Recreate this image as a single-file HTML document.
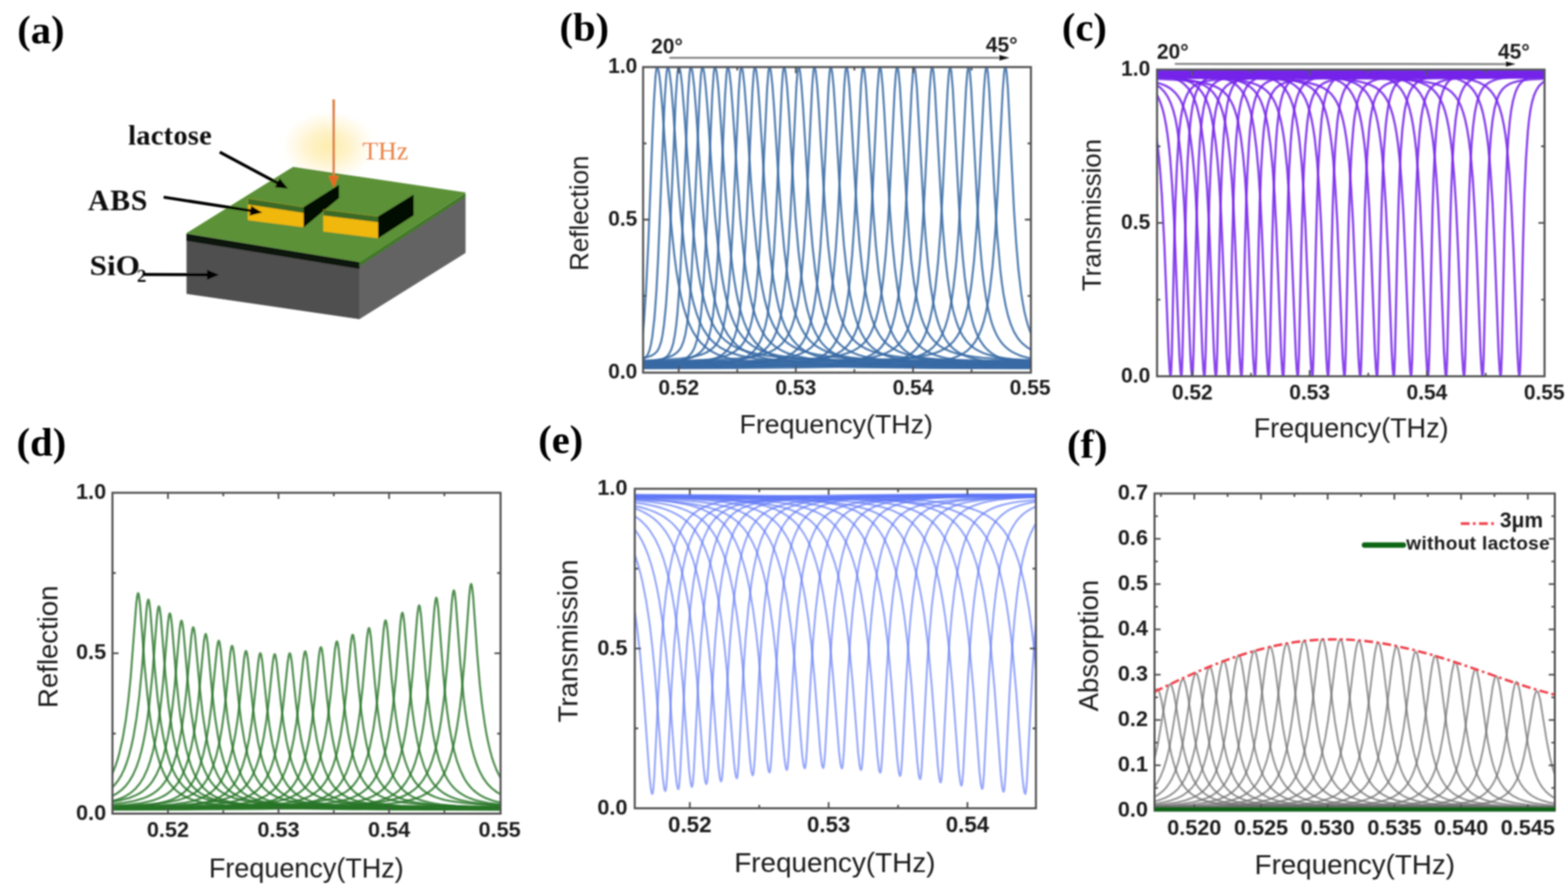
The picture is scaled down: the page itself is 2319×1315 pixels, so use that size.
<!DOCTYPE html><html><head><meta charset="utf-8"><style>html,body{margin:0;padding:0;background:#fff;overflow:hidden}svg{display:block}</style></head><body>
<svg width="2319" height="1315" viewBox="0 0 2319 1315">
<rect width="2319" height="1315" fill="#fff"/>
<defs><radialGradient id="glow" cx="50%" cy="50%" r="50%"><stop offset="0" stop-color="#fdeeae" stop-opacity="1"/><stop offset="0.4" stop-color="#fef1c2" stop-opacity="0.9"/><stop offset="0.75" stop-color="#fff8e2" stop-opacity="0.6"/><stop offset="1" stop-color="#ffffff" stop-opacity="0"/></radialGradient><clipPath id="cb"><rect x="951.1" y="99.2" width="573.6" height="452"/></clipPath><clipPath id="cc"><rect x="1711.2" y="103" width="573.1" height="453.6"/></clipPath><clipPath id="cd"><rect x="166.3" y="728.9" width="574" height="474.6"/></clipPath><clipPath id="ce"><rect x="938.8" y="723.3" width="593.5" height="472.3"/></clipPath><clipPath id="cf"><rect x="1707.5" y="730" width="592" height="469"/></clipPath><filter id="soft" x="0" y="0" width="2319" height="1315" filterUnits="userSpaceOnUse"><feGaussianBlur stdDeviation="0.9"/></filter></defs>
<g filter="url(#soft)">
<text x="25.5" y="63.5" text-anchor="start" style="font-family:'Liberation Serif','Times New Roman',serif;font-weight:bold;font-size:60.0px" fill="#000">(a)</text>
<ellipse cx="486" cy="216" rx="74" ry="56" fill="url(#glow)"/>
<g stroke-linejoin="round">
<polygon points="276.2,347 531.5,389 531.5,471.7 276.2,434.4" fill="#4f4f4f" stroke="#4f4f4f" stroke-width="0.8"/>
<polygon points="531.5,389 688.1,287 688.1,374.1 531.5,471.7" fill="#636363" stroke="#636363" stroke-width="0.8"/>
<polygon points="276.2,345 433.6,247.1 688.1,285 531.5,387.5" fill="#5b9137" stroke="#5b9137" stroke-width="0.8"/>
<polygon points="276.2,345.8 531.5,387.9 531.5,397.5 276.2,356" fill="#0c1708" stroke="#0c1708" stroke-width="0.6"/>
<polygon points="531.5,387.8 688.1,285.5 688.1,291.5 531.5,394" fill="#437a28"/>
<polygon points="366.8,293.7 449.3,306.5 449.3,336 366.8,325.4" fill="#f0b70f" stroke="#f0b70f" stroke-width="0.6"/>
<polygon points="366.8,293.7 449.3,306.5 449.3,315 366.8,302.5" fill="#3b6a27"/>
<polygon points="449.3,306.5 501.1,273.8 501.1,292.9 449.3,336" fill="#050805" stroke="#050805" stroke-width="0.6"/>
<polygon points="478.3,310.2 559.5,320.3 559.5,352.2 478.3,342.2" fill="#f0b70f" stroke="#f0b70f" stroke-width="0.6"/>
<polygon points="478.3,310.2 559.5,320.3 559.5,328.8 478.3,318.7" fill="#3b6a27"/>
<polygon points="559.5,320.3 611.5,288.3 611.5,318.5 559.5,352.2" fill="#050805" stroke="#050805" stroke-width="0.6"/>
</g>
<line x1="493.5" y1="147" x2="493.5" y2="264" stroke="#e07c3c" stroke-width="3.6"/>
<polygon points="485.8,260 501.2,260 493.5,278" fill="#e46a24"/>
<text x="536.0" y="236.4" text-anchor="start" style="font-family:'Liberation Serif','Times New Roman',serif;font-size:38.0px" fill="#ea8347">THz</text>
<text x="189.5" y="213.5" text-anchor="start" style="font-family:'Liberation Serif','Times New Roman',serif;font-weight:bold;font-size:42.0px" fill="#111" letter-spacing="0.4">lactose</text>
<text x="130.0" y="311.4" text-anchor="start" style="font-family:'Liberation Serif','Times New Roman',serif;font-weight:bold;font-size:44.0px" fill="#111" letter-spacing="1.2">ABS</text>
<text x="0.0" y="0.0" text-anchor="start" style="font-family:'Liberation Serif','Times New Roman',serif;font-weight:bold;font-size:42.0px" fill="#111" transform="translate(132.6 407.3) scale(1.100 1)">SiO</text>
<text x="202.6" y="417.2" text-anchor="start" style="font-family:'Liberation Serif','Times New Roman',serif;font-weight:bold;font-size:28.0px" fill="#111">2</text>
<line x1="325.0" y1="225.0" x2="411.9" y2="271.5" stroke="#000" stroke-width="4.5"/><polygon points="426.0,279.0 406.6,277.1 413.7,263.9" fill="#000"/>
<line x1="242.0" y1="291.6" x2="372.2" y2="311.9" stroke="#000" stroke-width="4.5"/><polygon points="388.0,314.4 369.1,319.0 371.4,304.2" fill="#000"/>
<line x1="213.0" y1="406.0" x2="308.0" y2="406.4" stroke="#000" stroke-width="4.5"/><polygon points="324.0,406.5 306.0,413.9 306.0,398.9" fill="#000"/>
<g clip-path="url(#cb)" fill="none" stroke="#376aa5" stroke-width="3.1" stroke-opacity="0.85" stroke-linejoin="round">
<path d="M949.1 506.5L950.8 492.8 952.5 474.6 955.6 427.4 959.0 355.9 965.0 199.0 967.2 149.6 969.6 111.6 970.8 101.9 971.7 99.2 972.2 99.4 972.9 100.7 974.1 105.3 975.3 113.0 976.8 125.8 979.9 163.4 988.1 279.4 992.0 326.2 997.3 377.1 1000.1 398.9 1003.3 418.7 1006.9 437.5 1010.7 453.6 1015.1 468.0 1019.6 480.0 1024.7 490.4 1030.5 499.6 1036.7 507.2 1044.0 514.0 1051.7 519.4 1060.3 523.9 1070.2 527.8 1081.5 531.1 1094.5 533.9 1109.5 536.1 1126.8 538.0 1147.0 539.6 1170.1 540.8 1197.3 541.8 1268.1 543.2 1370.9 544.1 1526.7 544.6"/>
<path d="M949.1 532.6L953.2 530.2 956.3 527.1 958.7 522.9 960.9 517.1 962.8 509.3 964.7 498.2 967.9 470.3 970.8 430.7 973.4 381.1 981.1 190.7 983.3 143.3 985.5 110.7 986.7 101.5 987.1 99.7 987.6 99.2 988.1 99.5 988.8 100.9 990.0 105.9 992.7 127.2 995.8 165.5 1003.5 275.3 1007.4 322.4 1012.7 373.7 1015.6 395.6 1018.7 415.5 1022.1 433.0 1025.9 449.3 1030.0 463.1 1034.6 475.3 1039.6 485.8 1045.2 494.7 1051.4 502.5 1058.4 509.1 1065.9 514.4 1074.3 518.9 1083.9 522.8 1095.0 526.1 1107.5 528.8 1122.2 531.1 1139.1 533.0 1158.8 534.6 1181.2 535.8 1207.7 536.8 1276.5 538.2 1376.2 539.1 1526.7 539.6"/>
<path d="M949.1 530.1L957.8 528.1 964.3 525.7 968.8 522.8 972.5 518.7 975.3 513.1 977.8 505.6 979.9 495.3 981.8 482.3 985.0 451.0 987.9 408.3 991.2 340.5 999.4 144.7 1001.6 111.6 1002.8 101.8 1003.3 99.9 1003.8 99.2 1004.2 99.4 1005.0 100.8 1006.2 105.7 1007.4 113.7 1008.8 126.9 1011.9 165.4 1019.4 272.2 1023.3 319.6 1025.9 347.3 1028.6 371.0 1031.4 392.9 1034.3 411.3 1037.7 429.0 1041.6 445.3 1045.6 459.1 1050.0 470.7 1054.8 480.9 1060.3 490.0 1066.4 497.6 1073.1 504.0 1080.6 509.5 1088.7 514.0 1098.1 517.8 1108.7 521.1 1121.0 523.8 1135.2 526.1 1151.6 528.0 1170.8 529.5 1192.5 530.8 1218.3 531.8 1285.0 533.2 1381.3 534.1 1526.7 534.7"/>
<path d="M949.1 538.9L961.9 537.1 972.0 534.8 979.9 531.7 983.0 529.8 985.7 527.8 987.9 525.6 989.8 523.0 992.9 516.8 995.6 508.2 998.0 496.2 999.9 482.6 1001.8 464.5 1005.4 415.4 1009.3 339.3 1017.5 143.1 1019.6 110.3 1020.8 101.1 1021.3 99.6 1021.8 99.2 1022.3 99.6 1023.0 101.3 1024.2 106.9 1026.6 127.2 1029.5 163.6 1037.2 277.1 1040.8 322.9 1043.5 351.4 1046.1 375.9 1048.8 396.7 1051.7 415.9 1055.0 434.3 1058.6 450.2 1062.5 463.9 1066.8 476.1 1071.7 486.8 1076.9 495.9 1083.0 503.9 1089.7 510.7 1096.9 516.2 1104.9 520.8 1114.0 524.7 1124.4 528.1 1136.4 530.9 1150.1 533.2 1166.0 535.2 1184.6 536.8 1205.5 538.0 1230.3 539.1 1294.8 540.6 1387.5 541.5 1526.7 542.1"/>
<path d="M949.1 534.7L966.0 533.2 979.0 531.0 989.3 528.1 993.6 526.3 997.3 524.3 1000.4 522.1 1003.0 519.7 1005.4 516.8 1007.4 513.7 1010.7 505.7 1013.6 494.6 1016.0 480.6 1018.2 462.9 1020.4 439.1 1022.3 412.0 1026.4 335.0 1034.6 143.2 1036.7 110.4 1037.9 101.2 1038.4 99.6 1038.9 99.2 1039.4 99.6 1040.1 101.3 1041.3 107.0 1043.7 127.6 1046.6 164.4 1054.1 274.8 1057.7 320.8 1062.7 371.7 1065.4 392.8 1068.0 410.6 1071.2 428.1 1074.8 444.6 1078.6 458.6 1083.0 471.2 1087.5 481.5 1092.8 490.9 1098.6 498.7 1105.1 505.5 1112.1 511.0 1119.8 515.6 1128.7 519.6 1138.8 522.9 1150.4 525.8 1163.6 528.1 1179.0 530.1 1197.1 531.7 1217.6 533.0 1241.4 534.0 1303.5 535.6 1392.8 536.5 1526.7 537.1"/>
<path d="M949.1 542.7L970.8 541.3 987.1 539.3 999.9 536.5 1005.2 534.7 1009.8 532.7 1013.9 530.4 1017.5 527.7 1020.6 524.7 1023.3 521.4 1025.7 517.4 1027.6 513.1 1031.0 502.1 1033.8 487.2 1036.3 469.0 1038.7 444.0 1040.8 414.4 1045.2 333.4 1053.4 140.9 1055.5 108.8 1056.5 101.5 1057.0 99.7 1057.4 99.2 1057.9 99.6 1058.6 101.2 1059.9 107.0 1062.3 128.3 1065.1 166.3 1072.4 276.8 1076.0 324.3 1080.8 374.7 1083.4 396.6 1086.1 415.2 1089.2 433.4 1092.6 449.4 1096.4 464.1 1100.5 476.5 1105.1 487.4 1110.2 496.8 1116.0 505.1 1122.2 511.9 1129.0 517.5 1136.7 522.4 1145.3 526.5 1155.0 529.8 1166.3 532.8 1179.0 535.2 1194.0 537.2 1211.3 538.9 1230.8 540.2 1253.9 541.3 1313.6 542.9 1399.1 543.9 1526.7 544.5"/>
<path d="M949.1 538.1L975.8 536.9 995.8 535.0 1011.0 532.4 1017.0 530.8 1022.5 528.9 1027.6 526.5 1031.9 523.9 1035.8 520.9 1039.1 517.4 1042.0 513.5 1044.4 509.2 1046.6 504.1 1048.5 498.2 1051.7 484.6 1054.6 465.6 1057.2 440.7 1059.6 410.2 1061.8 375.5 1064.2 328.7 1072.4 140.5 1074.5 108.6 1075.5 101.4 1076.0 99.7 1076.5 99.2 1077.4 100.6 1078.6 105.8 1081.0 126.3 1083.9 164.1 1091.2 274.9 1094.8 322.5 1099.6 372.8 1102.0 392.8 1104.6 411.5 1107.8 429.8 1111.1 445.8 1114.7 459.6 1118.8 472.2 1123.2 482.6 1128.0 491.7 1133.5 499.9 1139.5 506.6 1146.0 512.2 1153.5 517.1 1161.9 521.3 1171.3 524.7 1182.2 527.6 1194.4 530.1 1208.9 532.1 1225.5 533.8 1244.3 535.1 1266.4 536.2 1323.7 537.9 1405.4 538.9 1526.7 539.5"/>
<path d="M949.1 533.5L981.6 532.3 1005.2 530.6 1023.0 528.2 1030.2 526.6 1036.5 524.8 1042.3 522.6 1047.3 520.0 1051.9 516.8 1055.8 513.4 1059.1 509.6 1062.3 504.8 1064.9 499.5 1067.1 493.8 1070.7 480.1 1073.8 461.9 1076.7 437.3 1079.4 406.2 1081.8 369.7 1084.2 324.7 1092.6 136.2 1094.5 108.8 1095.5 101.5 1096.0 99.7 1096.4 99.2 1097.4 100.6 1098.6 105.8 1101.0 126.6 1103.9 164.8 1110.9 272.5 1114.3 317.4 1119.1 368.5 1121.5 388.7 1124.1 407.5 1127.3 426.0 1130.4 441.0 1134.0 455.1 1137.9 467.1 1142.2 477.7 1147.0 487.0 1152.3 494.9 1158.1 501.6 1164.3 507.1 1171.6 512.0 1179.5 516.0 1188.7 519.5 1199.0 522.4 1211.1 524.9 1224.8 527.0 1240.9 528.7 1259.0 530.1 1280.2 531.2 1334.6 532.8 1412.1 533.9 1526.7 534.5"/>
<path d="M949.1 541.1L987.4 540.0 1014.8 538.4 1035.3 536.1 1043.5 534.5 1050.7 532.7 1057.2 530.5 1063.0 527.8 1068.0 524.7 1072.4 521.2 1076.5 517.0 1079.8 512.3 1082.7 507.2 1085.4 501.1 1087.5 494.7 1089.5 487.4 1093.1 468.5 1096.2 443.9 1099.1 412.0 1101.7 373.2 1104.4 324.3 1112.8 134.9 1114.7 107.8 1115.7 101.0 1116.4 99.2 1116.9 99.4 1117.4 100.4 1118.6 105.4 1121.0 126.6 1123.4 158.7 1130.2 266.2 1134.0 320.1 1138.6 370.7 1141.0 392.0 1143.6 411.7 1146.5 429.6 1149.7 445.4 1153.0 459.3 1156.9 472.1 1161.0 482.8 1165.5 492.2 1170.6 500.4 1176.4 507.5 1182.4 513.3 1189.4 518.3 1197.1 522.6 1206.0 526.2 1215.9 529.2 1227.4 531.8 1240.7 534.0 1255.8 535.8 1273.2 537.2 1293.4 538.4 1345.2 540.1 1418.6 541.2 1526.7 541.9"/>
<path d="M949.1 536.4L993.6 535.4 1025.2 533.9 1048.5 531.7 1057.7 530.2 1065.9 528.5 1073.1 526.4 1079.6 523.8 1085.1 520.9 1090.2 517.3 1094.5 513.4 1098.4 508.8 1101.7 503.6 1104.9 497.3 1107.5 490.3 1109.7 483.1 1111.9 474.1 1113.8 463.9 1117.2 439.9 1120.3 408.1 1123.2 368.2 1125.8 321.5 1134.5 131.7 1136.4 106.2 1137.4 100.3 1138.1 99.2 1139.1 100.9 1140.3 106.6 1142.4 126.3 1144.8 158.6 1151.3 262.8 1155.2 317.2 1159.8 368.1 1164.6 407.3 1167.5 425.4 1170.4 440.3 1173.7 454.5 1177.3 466.7 1181.4 477.7 1185.8 486.9 1190.6 494.9 1196.1 502.1 1202.1 508.0 1208.6 512.9 1216.1 517.2 1224.5 520.9 1234.2 524.0 1245.0 526.6 1257.5 528.7 1272.2 530.6 1288.6 532.0 1307.8 533.2 1356.7 535.0 1425.8 536.2 1526.7 536.9"/>
<path d="M949.1 543.9L1000.1 543.0 1036.0 541.6 1062.0 539.4 1072.4 538.0 1081.5 536.2 1089.5 534.1 1096.4 531.7 1102.5 528.8 1108.0 525.3 1112.8 521.2 1117.2 516.5 1121.0 510.9 1124.4 504.7 1127.3 497.8 1129.9 489.7 1132.3 480.4 1134.5 469.8 1138.3 443.9 1141.7 410.9 1144.6 372.3 1147.5 322.2 1156.2 131.3 1157.8 108.0 1158.8 101.0 1159.5 99.2 1160.0 99.5 1160.5 100.4 1161.7 105.9 1164.1 128.4 1166.8 166.2 1173.5 277.6 1176.6 322.3 1181.0 372.0 1185.5 410.9 1188.4 429.9 1191.3 445.5 1194.4 459.3 1198.1 472.1 1201.9 483.1 1206.0 492.3 1210.6 500.5 1215.9 507.8 1221.6 514.0 1227.9 519.1 1235.1 523.6 1243.1 527.4 1252.2 530.6 1262.6 533.3 1274.6 535.6 1288.3 537.5 1304.0 539.1 1322.0 540.3 1368.0 542.2 1432.8 543.5 1526.7 544.2"/>
<path d="M949.1 539.1L1006.4 538.2 1046.4 536.9 1075.3 534.8 1086.8 533.5 1096.7 531.8 1105.6 529.8 1113.3 527.4 1120.0 524.5 1125.8 521.2 1131.1 517.2 1135.7 512.6 1139.8 507.4 1143.4 501.4 1146.8 494.2 1149.7 486.3 1152.3 477.2 1154.7 466.8 1156.9 455.2 1159.0 440.9 1162.7 409.0 1165.8 370.5 1168.9 319.3 1177.8 128.2 1179.5 106.4 1180.5 100.3 1181.2 99.2 1182.2 101.0 1183.4 107.1 1185.5 128.1 1187.7 158.5 1194.0 262.9 1197.6 316.2 1201.7 364.5 1206.2 404.7 1208.9 422.8 1211.8 439.0 1214.9 453.4 1218.3 465.9 1221.9 476.6 1226.0 486.4 1230.6 494.9 1235.6 502.2 1241.2 508.4 1247.2 513.6 1253.9 518.1 1261.6 521.9 1270.3 525.2 1280.2 528.0 1291.5 530.3 1304.5 532.2 1319.2 533.8 1336.3 535.1 1379.4 537.1 1439.5 538.4 1526.7 539.2"/>
<path d="M949.1 534.2L1013.6 533.4 1058.2 532.2 1090.2 530.2 1102.7 529.0 1113.5 527.4 1123.2 525.5 1131.6 523.1 1138.8 520.4 1145.3 517.1 1150.9 513.4 1155.9 508.9 1160.3 503.8 1164.3 497.7 1168.0 490.6 1171.3 482.2 1174.2 473.1 1176.9 462.7 1179.3 450.9 1181.7 436.4 1185.8 402.8 1189.1 363.4 1192.3 314.0 1201.2 127.1 1202.9 105.9 1203.6 101.1 1204.3 99.2 1204.8 99.5 1205.3 100.4 1206.5 106.1 1208.6 126.4 1210.8 156.7 1217.1 261.5 1220.7 314.9 1224.8 363.1 1229.1 401.2 1231.8 419.4 1234.4 434.4 1237.3 447.9 1240.7 460.8 1244.3 471.8 1248.1 481.1 1252.5 489.5 1257.0 496.4 1262.1 502.4 1267.9 507.8 1274.4 512.4 1281.6 516.3 1289.8 519.6 1299.2 522.5 1309.8 524.9 1322.0 526.9 1335.8 528.5 1351.7 529.9 1391.9 531.9 1447.2 533.3 1526.7 534.1"/>
<path d="M949.1 541.8L1021.6 541.1 1071.2 540.0 1106.6 538.2 1120.3 537.0 1132.1 535.5 1142.4 533.7 1151.6 531.5 1159.5 528.8 1166.3 525.8 1172.5 522.0 1177.8 517.7 1182.6 512.5 1186.7 506.9 1190.6 500.0 1194.2 491.6 1197.3 482.3 1200.2 471.5 1202.9 459.0 1205.3 444.8 1207.4 429.1 1209.6 409.9 1213.2 367.7 1216.4 318.0 1225.3 129.1 1226.9 106.9 1227.9 100.6 1228.6 99.2 1229.6 100.9 1230.8 107.2 1233.0 129.3 1235.1 161.3 1240.9 261.8 1244.3 314.0 1248.1 362.2 1252.5 403.0 1254.9 420.7 1257.5 437.0 1260.4 451.5 1263.5 464.4 1266.9 475.6 1270.5 485.2 1274.6 493.9 1279.2 501.5 1284.0 507.8 1289.5 513.5 1295.6 518.2 1302.3 522.3 1310.0 525.8 1318.7 528.8 1328.5 531.4 1340.1 533.6 1352.9 535.3 1367.6 536.8 1404.4 539.0 1455.0 540.4 1526.7 541.4"/>
<path d="M949.1 537.0L1029.8 536.3 1084.4 535.3 1122.7 533.7 1137.6 532.5 1150.4 531.2 1161.7 529.4 1171.3 527.4 1179.8 524.9 1187.0 522.0 1193.5 518.5 1199.3 514.3 1204.3 509.3 1208.6 503.8 1212.7 497.1 1216.6 488.7 1220.0 479.3 1222.9 469.0 1225.7 456.0 1228.1 442.4 1230.3 427.3 1232.5 408.9 1236.1 368.6 1239.2 321.1 1248.6 127.5 1250.3 106.2 1251.3 100.3 1252.0 99.2 1252.9 101.1 1253.9 106.1 1256.1 127.5 1258.2 159.4 1264.0 260.4 1267.4 312.7 1271.0 358.2 1275.1 397.5 1277.5 415.7 1279.9 430.8 1282.8 445.9 1285.7 458.2 1288.8 469.1 1292.4 479.2 1296.3 487.8 1300.4 495.1 1305.0 501.6 1310.3 507.4 1316.0 512.3 1322.3 516.4 1329.5 520.1 1337.5 523.1 1346.6 525.7 1357.2 528.0 1369.0 529.8 1382.5 531.3 1416.2 533.7 1462.2 535.2 1526.7 536.3"/>
<path d="M949.1 544.5L1038.7 543.9 1098.4 543.0 1140.0 541.4 1156.2 540.3 1169.9 539.0 1181.9 537.4 1192.3 535.4 1201.2 533.0 1209.1 530.1 1215.9 526.7 1221.9 522.6 1227.2 517.8 1231.8 512.4 1236.1 505.7 1239.9 497.8 1243.6 488.3 1246.7 477.7 1249.6 465.2 1252.2 450.8 1254.6 434.4 1256.8 416.2 1260.4 376.4 1263.8 325.5 1273.4 125.9 1275.1 105.4 1275.8 100.9 1276.5 99.2 1277.0 99.5 1277.5 100.7 1278.7 107.2 1280.9 130.3 1291.7 314.7 1295.3 362.1 1299.2 400.7 1303.7 434.2 1306.4 449.0 1309.0 461.2 1311.9 472.2 1315.3 482.7 1318.9 491.7 1322.8 499.3 1327.1 506.2 1331.9 512.2 1337.2 517.4 1343.0 521.8 1349.7 525.7 1357.2 529.0 1365.6 531.9 1375.3 534.3 1386.1 536.3 1398.4 538.0 1412.3 539.3 1428.7 540.5 1469.6 542.3 1526.7 543.4"/>
<path d="M949.1 539.6L1047.6 539.1 1112.8 538.2 1157.8 536.8 1174.9 535.8 1189.6 534.6 1202.4 533.0 1213.5 531.2 1223.1 528.8 1231.3 526.1 1238.5 522.8 1244.8 519.0 1250.3 514.4 1255.1 509.2 1259.7 502.6 1263.8 494.8 1267.4 485.9 1270.8 475.2 1273.7 463.4 1276.3 449.9 1278.7 434.5 1281.1 415.5 1284.5 380.6 1287.4 340.8 1290.7 280.7 1297.7 133.0 1299.7 107.3 1300.6 100.8 1301.3 99.2 1301.8 99.5 1302.3 100.7 1303.3 105.6 1305.4 127.7 1307.6 161.1 1313.1 262.0 1316.0 309.1 1319.6 357.4 1323.3 394.5 1327.6 427.5 1330.0 441.6 1332.6 454.5 1335.5 466.0 1338.4 475.5 1341.8 484.6 1345.4 492.4 1349.5 499.5 1353.8 505.4 1358.6 510.6 1364.2 515.3 1370.2 519.3 1376.9 522.7 1384.6 525.7 1393.3 528.3 1402.9 530.4 1414.0 532.2 1426.5 533.7 1441.0 534.9 1477.1 536.9 1526.7 538.2"/>
<path d="M949.1 534.7L1056.7 534.3 1127.3 533.5 1175.7 532.1 1209.9 530.1 1223.6 528.6 1235.4 526.8 1245.5 524.7 1254.2 522.1 1261.6 519.0 1268.4 515.2 1274.1 510.8 1279.2 505.8 1284.0 499.4 1288.3 491.7 1292.2 482.7 1295.6 472.5 1298.7 460.3 1301.6 446.0 1304.0 430.9 1306.4 412.3 1309.8 378.3 1312.7 339.6 1316.3 276.4 1323.0 135.8 1324.9 109.1 1325.9 101.8 1326.4 99.9 1326.9 99.2 1327.3 99.6 1327.8 100.8 1328.8 105.9 1331.0 128.7 1341.1 303.8 1344.4 350.1 1347.8 386.2 1351.9 419.1 1356.5 445.4 1359.1 457.0 1362.0 467.4 1364.9 476.0 1368.3 484.2 1371.9 491.3 1376.0 497.7 1380.6 503.4 1385.4 508.1 1390.9 512.4 1396.9 516.0 1403.9 519.2 1411.6 521.9 1420.3 524.2 1429.9 526.1 1441.0 527.8 1453.5 529.2 1484.6 531.3 1526.7 532.8"/>
<path d="M949.1 542.2L1066.1 541.8 1142.0 541.0 1193.7 539.7 1229.8 537.8 1244.5 536.3 1256.8 534.6 1267.4 532.5 1276.5 530.0 1284.5 526.9 1291.5 523.3 1297.5 519.0 1302.8 514.0 1307.8 507.5 1312.4 499.8 1316.3 491.2 1319.9 480.6 1323.0 468.9 1325.9 455.0 1328.5 439.0 1331.0 420.8 1334.6 384.9 1337.7 342.8 1341.3 278.8 1348.1 136.9 1350.0 109.8 1350.9 102.1 1351.9 99.2 1352.4 99.5 1352.9 100.7 1353.8 105.9 1356.0 129.4 1365.9 306.7 1369.0 351.6 1372.4 389.6 1376.2 422.2 1380.3 447.6 1382.7 459.2 1385.1 469.0 1388.0 478.7 1390.9 486.7 1394.3 494.3 1397.9 501.0 1402.0 507.0 1406.3 512.1 1411.1 516.6 1416.7 520.7 1422.7 524.1 1429.4 527.1 1436.9 529.6 1445.3 531.8 1454.7 533.7 1465.5 535.3 1491.8 537.8 1526.7 539.5"/>
<path d="M949.1 537.3L1076.2 536.9 1157.8 536.2 1213.0 535.0 1251.5 533.1 1266.9 531.8 1279.9 530.2 1291.0 528.2 1300.6 525.8 1309.0 522.8 1316.3 519.3 1322.5 515.2 1328.1 510.3 1333.4 504.0 1337.9 496.7 1342.0 488.1 1345.6 478.2 1349.0 466.2 1351.9 453.0 1354.6 437.8 1357.2 418.7 1360.8 384.1 1363.9 343.6 1367.6 282.0 1374.8 133.8 1376.7 108.3 1377.7 101.4 1378.1 99.7 1378.6 99.2 1379.1 99.7 1379.6 101.2 1380.6 107.0 1382.7 131.9 1391.9 298.9 1394.8 341.9 1397.9 379.2 1401.3 410.2 1405.1 436.6 1409.4 458.3 1411.9 467.6 1414.5 476.1 1417.4 483.9 1420.8 491.3 1424.1 497.3 1428.0 502.9 1432.3 507.9 1436.9 512.1 1442.0 515.9 1447.7 519.2 1454.0 522.1 1461.0 524.5 1468.9 526.7 1477.8 528.5 1487.7 530.1 1499.0 531.5 1526.7 533.6"/>
<path d="M949.1 544.8L1086.3 544.4 1173.7 543.7 1232.5 542.6 1273.2 540.8 1289.3 539.5 1303.0 537.9 1314.6 536.0 1324.7 533.6 1333.4 530.7 1341.1 527.1 1347.6 523.0 1353.3 518.1 1358.9 511.8 1363.7 504.4 1367.8 496.0 1371.6 485.6 1375.0 473.8 1378.1 459.7 1380.8 444.6 1383.4 425.5 1387.3 388.5 1390.7 344.0 1394.3 280.9 1401.3 135.8 1403.2 109.4 1404.1 102.0 1405.1 99.2 1405.6 99.5 1406.1 100.9 1407.0 106.5 1409.2 131.9 1418.1 300.5 1420.8 342.0 1423.7 378.8 1426.8 410.0 1430.2 435.7 1434.0 457.6 1438.1 474.9 1440.7 483.5 1443.4 490.8 1446.3 497.4 1449.7 503.7 1453.3 509.2 1457.1 514.0 1461.5 518.3 1466.0 522.0 1471.1 525.3 1476.6 528.1 1482.9 530.7 1489.9 532.9 1497.6 534.8 1506.2 536.5 1526.7 539.1"/>
<path d="M949.1 539.9L1096.4 539.5 1189.9 538.9 1252.2 537.8 1295.1 536.1 1312.2 534.9 1326.6 533.4 1338.9 531.5 1349.3 529.3 1358.4 526.5 1366.3 523.1 1373.1 519.2 1379.1 514.5 1384.6 508.7 1389.7 501.5 1394.3 492.7 1398.1 482.9 1401.7 470.9 1404.9 457.4 1407.8 441.5 1410.4 423.1 1414.3 387.4 1417.6 344.5 1421.2 283.5 1428.7 132.4 1430.6 107.7 1431.6 101.2 1432.1 99.6 1432.6 99.2 1433.5 101.6 1434.5 108.0 1436.4 131.3 1444.8 292.7 1447.2 331.8 1449.7 364.6 1452.3 393.9 1455.2 419.2 1458.3 440.5 1461.7 458.2 1466.0 475.1 1468.4 482.4 1471.1 489.2 1474.0 495.4 1476.9 500.5 1480.0 505.2 1483.6 509.6 1487.5 513.5 1491.5 516.9 1496.1 520.0 1501.2 522.7 1506.7 525.2 1512.7 527.3 1526.7 530.7"/>
<path d="M949.1 535.0L1107.0 534.6 1206.2 534.0 1272.0 533.0 1317.0 531.4 1334.8 530.2 1350.0 528.8 1362.7 527.0 1373.6 524.8 1383.0 522.2 1391.1 519.0 1398.1 515.2 1404.4 510.6 1410.4 504.6 1415.5 497.7 1420.0 489.4 1424.1 479.5 1427.7 468.0 1431.1 454.0 1434.0 438.6 1436.7 420.8 1440.5 386.3 1444.1 341.6 1447.7 281.9 1455.2 133.4 1457.1 108.5 1458.1 101.7 1458.6 99.9 1459.0 99.2 1459.5 99.6 1460.0 101.1 1461.0 107.2 1463.1 134.1 1470.8 284.2 1474.9 348.9 1479.3 397.9 1481.7 418.2 1484.1 434.7 1487.5 452.9 1491.1 467.8 1495.2 480.4 1499.7 490.9 1505.0 499.7 1508.2 503.8 1511.3 507.2 1518.3 513.1 1522.4 515.8 1526.7 518.1"/>
<path d="M949.1 542.4L1118.1 542.1 1223.3 541.5 1292.7 540.6 1339.9 539.0 1358.6 537.8 1374.3 536.4 1387.5 534.7 1398.9 532.5 1408.7 529.9 1417.2 526.7 1424.4 522.9 1430.9 518.4 1437.1 512.3 1442.4 505.3 1447.2 496.6 1451.3 486.8 1455.0 475.5 1458.3 461.8 1461.5 445.3 1464.1 427.6 1468.0 393.4 1471.6 349.1 1475.4 285.4 1482.9 135.3 1485.0 107.4 1486.0 101.1 1486.5 99.6 1487.0 99.2 1487.7 100.8 1488.7 106.7 1490.6 130.4 1499.7 311.4 1502.9 359.4 1506.2 398.8 1510.3 433.4 1512.5 447.3 1514.9 460.1 1517.6 471.5 1520.2 480.9 1523.3 489.8 1526.7 497.5"/>
</g>
<rect x="951.1" y="99.2" width="573.6" height="452.0" fill="none" stroke="#505050" stroke-width="3"/>
<path d="M1003.8 551.2v-9 M1003.8 99.2v9M1177.0 551.2v-9 M1177.0 99.2v9M1350.3 551.2v-9 M1350.3 99.2v9M1090.4 551.2v-5 M1090.4 99.2v5M1263.6 551.2v-5 M1263.6 99.2v5M1436.9 551.2v-5 M1436.9 99.2v5M951.1 324.9h9 M1524.7 324.9h-9M951.1 437.8h5 M1524.7 437.8h-5M951.1 212.1h5 M1524.7 212.1h-5" stroke="#505050" stroke-width="2.6" fill="none"/>
<text x="827.5" y="60.0" text-anchor="start" style="font-family:'Liberation Serif','Times New Roman',serif;font-weight:bold;font-size:60.0px" fill="#000">(b)</text>
<text x="963.0" y="79.0" text-anchor="start" style="font-family:'Liberation Sans',Arial,sans-serif;font-weight:bold;font-size:31.0px" fill="#1a1a1a">20°</text>
<text x="1458.0" y="77.0" text-anchor="start" style="font-family:'Liberation Sans',Arial,sans-serif;font-weight:bold;font-size:31.0px" fill="#1a1a1a">45°</text>
<line x1="990" y1="85.5" x2="1480" y2="85.5" stroke="#8a8a8a" stroke-width="3.2"/>
<polygon points="1478,81.5 1493,85.5 1478,89.5" fill="#111"/>
<text x="942.5" y="108.4" text-anchor="end" style="font-family:'Liberation Sans',Arial,sans-serif;font-weight:bold;font-size:31.0px" fill="#1a1a1a">1.0</text>
<text x="942.5" y="334.1" text-anchor="end" style="font-family:'Liberation Sans',Arial,sans-serif;font-weight:bold;font-size:31.0px" fill="#1a1a1a">0.5</text>
<text x="942.5" y="559.8" text-anchor="end" style="font-family:'Liberation Sans',Arial,sans-serif;font-weight:bold;font-size:31.0px" fill="#1a1a1a">0.0</text>
<text x="1003.8" y="583.6" text-anchor="middle" style="font-family:'Liberation Sans',Arial,sans-serif;font-weight:bold;font-size:31.0px" fill="#1a1a1a">0.52</text>
<text x="1177.0" y="583.6" text-anchor="middle" style="font-family:'Liberation Sans',Arial,sans-serif;font-weight:bold;font-size:31.0px" fill="#1a1a1a">0.53</text>
<text x="1350.3" y="583.6" text-anchor="middle" style="font-family:'Liberation Sans',Arial,sans-serif;font-weight:bold;font-size:31.0px" fill="#1a1a1a">0.54</text>
<text x="1523.5" y="583.6" text-anchor="middle" style="font-family:'Liberation Sans',Arial,sans-serif;font-weight:bold;font-size:31.0px" fill="#1a1a1a">0.55</text>
<text x="1236.7" y="640.5" text-anchor="middle" style="font-family:'Liberation Sans',Arial,sans-serif;font-size:39.6px" fill="#1a1a1a">Frequency(THz)</text>
<text x="870.3" y="315.4" text-anchor="middle" style="font-family:'Liberation Sans',Arial,sans-serif;font-size:38.4px" fill="#1a1a1a" transform="rotate(-90 870.3 315.4)">Reflection</text>
<g clip-path="url(#cc)" fill="none" stroke="#7424ea" stroke-width="3.3" stroke-opacity="0.86" stroke-linejoin="round">
<path d="M1709.2 195.5L1711.9 214.1 1714.2 235.0 1716.3 259.4 1718.4 290.4 1722.1 363.2 1728.3 521.2 1729.8 547.0 1730.6 554.1 1731.3 556.6 1732.1 549.8 1733.1 523.3 1736.5 367.9 1738.4 298.6 1740.6 246.0 1742.9 208.6 1744.4 191.4 1746.3 175.4 1748.5 162.8 1750.8 152.9 1753.5 144.7 1756.7 137.7 1760.4 132.5 1764.8 128.1 1769.2 125.2 1774.4 122.8 1780.6 120.8 1788.1 119.2 1796.9 118.0 1807.9 117.0 1837.7 115.7 1880.8 115.1 1950.7 114.7 2286.3 114.4"/>
<path d="M1709.2 137.0L1713.0 144.0 1716.3 151.8 1719.4 161.4 1722.1 172.2 1724.6 185.2 1726.7 199.0 1728.6 214.6 1730.6 233.8 1733.6 274.6 1736.5 327.6 1744.4 527.4 1745.8 548.6 1746.5 554.9 1747.1 556.6 1747.5 555.3 1747.9 550.5 1748.8 524.3 1752.3 365.9 1754.2 294.5 1756.3 240.3 1758.7 201.8 1760.2 184.0 1761.9 169.0 1764.0 155.6 1766.4 145.2 1769.0 136.5 1772.1 129.6 1776.0 123.7 1780.4 119.2 1784.8 116.1 1790.0 113.6 1796.2 111.6 1803.5 110.0 1812.3 108.7 1822.9 107.7 1852.0 106.4 1894.1 105.6 1962.1 105.2 2286.3 104.9"/>
<path d="M1709.2 124.9L1716.1 129.7 1721.9 135.6 1726.9 142.9 1731.3 152.0 1735.0 162.5 1738.3 175.2 1741.1 190.2 1743.8 208.9 1745.8 225.9 1747.7 246.9 1751.1 298.4 1754.4 367.4 1760.4 522.5 1761.9 547.9 1762.7 554.6 1763.1 556.2 1763.5 556.5 1764.2 548.1 1765.2 519.7 1768.5 370.1 1770.4 298.6 1772.5 244.2 1774.8 205.6 1776.4 187.7 1778.1 172.7 1780.2 159.3 1782.5 148.8 1785.2 140.2 1788.3 133.3 1791.9 127.6 1796.2 123.2 1800.6 120.0 1805.6 117.5 1811.6 115.5 1818.7 113.9 1827.4 112.6 1837.7 111.6 1866.2 110.2 1907.4 109.4 1973.4 109.0 2286.3 108.7"/>
<path d="M1709.2 121.7L1720.2 125.2 1724.8 127.3 1729.0 129.7 1732.9 132.4 1736.3 135.4 1739.6 138.9 1742.5 142.7 1745.2 147.0 1747.7 151.9 1752.1 163.3 1756.0 177.4 1759.2 194.3 1761.9 213.1 1764.2 234.1 1766.4 258.8 1768.3 287.0 1771.9 359.1 1778.3 522.1 1779.8 547.6 1780.6 554.4 1781.0 556.1 1781.4 556.6 1782.1 548.8 1783.1 521.2 1786.6 364.9 1788.5 295.9 1790.4 247.5 1792.7 209.0 1794.3 191.2 1796.0 176.2 1797.9 163.9 1800.2 153.1 1802.7 144.8 1805.8 137.6 1809.5 131.8 1813.7 127.2 1817.9 124.1 1822.9 121.5 1828.9 119.4 1835.8 117.8 1844.1 116.5 1854.3 115.4 1882.0 114.0 1922.0 113.3 1985.9 112.8 2286.3 112.5"/>
<path d="M1709.2 109.2L1724.4 111.9 1730.8 113.7 1736.3 115.6 1741.3 117.8 1746.0 120.4 1750.2 123.5 1753.8 126.8 1757.3 130.7 1760.4 135.1 1763.3 140.1 1765.8 145.4 1768.1 151.4 1770.4 158.7 1774.2 174.8 1777.3 192.8 1780.2 215.8 1782.7 242.6 1785.0 275.0 1787.1 312.8 1789.1 354.9 1795.4 521.4 1796.9 547.5 1797.7 554.4 1798.1 556.1 1798.5 556.6 1799.3 548.6 1800.2 520.5 1803.7 360.8 1805.6 290.3 1807.5 240.9 1809.8 201.6 1811.4 183.4 1813.1 168.1 1815.0 155.5 1817.3 144.6 1819.8 136.1 1822.9 128.7 1826.4 123.0 1830.4 118.4 1834.7 115.1 1839.5 112.5 1845.2 110.3 1852.2 108.6 1860.5 107.2 1870.3 106.1 1897.2 104.7 1936.1 103.9 1997.8 103.4 2286.3 103.1"/>
<path d="M1709.2 111.0L1729.2 113.1 1737.5 114.5 1744.8 116.1 1751.1 117.9 1756.9 120.1 1762.1 122.6 1766.7 125.5 1771.0 129.0 1774.6 132.7 1778.1 137.2 1781.2 142.2 1784.1 148.1 1786.6 154.4 1788.9 161.5 1791.0 169.4 1794.6 187.6 1797.7 209.0 1800.6 236.7 1803.1 269.1 1805.2 304.4 1807.3 348.5 1814.3 526.4 1815.8 550.0 1816.6 555.6 1817.2 556.5 1817.9 548.0 1818.9 519.4 1822.2 369.1 1824.1 297.4 1826.0 246.9 1828.3 206.7 1829.9 188.1 1831.6 172.5 1833.5 159.7 1835.6 149.4 1838.1 140.6 1841.2 133.0 1844.7 127.1 1848.7 122.4 1852.8 119.2 1857.6 116.4 1863.1 114.3 1869.9 112.5 1878.0 111.1 1887.6 110.0 1913.8 108.5 1951.3 107.7 2010.9 107.2 2286.3 106.9"/>
<path d="M1709.2 113.6L1734.8 115.3 1754.0 117.7 1761.9 119.3 1768.9 121.2 1775.0 123.4 1780.4 125.9 1785.2 128.8 1789.6 132.2 1793.7 136.3 1797.1 140.7 1800.4 146.1 1803.3 152.0 1806.0 158.9 1808.3 166.2 1810.4 174.4 1812.5 184.4 1816.0 206.1 1819.1 233.4 1821.8 266.2 1824.1 303.4 1826.4 350.7 1833.1 523.2 1834.7 548.3 1835.4 554.7 1836.0 556.6 1836.4 555.6 1836.8 551.1 1837.7 525.9 1841.2 369.7 1843.1 298.9 1845.1 249.0 1847.4 209.3 1848.9 191.0 1850.4 177.1 1852.4 164.0 1854.5 153.5 1857.0 144.6 1859.9 137.3 1863.1 131.5 1867.2 126.6 1871.2 123.2 1875.8 120.5 1881.4 118.2 1888.0 116.5 1895.7 115.0 1905.1 113.9 1930.3 112.4 1966.5 111.5 2023.8 111.0 2286.3 110.6"/>
<path d="M1709.2 116.6L1740.8 118.0 1764.0 120.0 1773.5 121.4 1781.6 122.9 1788.7 124.8 1795.0 127.0 1800.8 129.7 1805.8 132.8 1810.2 136.3 1814.3 140.5 1817.7 145.1 1821.0 150.6 1823.9 156.7 1826.6 163.9 1829.1 172.2 1831.2 180.9 1835.0 202.2 1838.5 230.1 1841.4 263.2 1843.9 301.8 1846.2 347.7 1853.3 527.0 1854.7 548.1 1855.4 554.7 1856.0 556.5 1856.4 555.7 1856.8 551.5 1857.8 526.8 1861.4 364.1 1863.1 301.6 1865.1 252.0 1867.4 212.5 1868.9 194.3 1870.5 180.4 1872.4 167.5 1874.5 157.0 1877.0 148.1 1879.7 141.3 1883.0 135.4 1886.8 130.6 1890.7 127.3 1895.3 124.5 1900.7 122.2 1907.0 120.4 1914.5 119.0 1923.6 117.8 1948.2 116.2 1983.2 115.3 2038.1 114.8 2286.3 114.4"/>
<path d="M1709.2 106.7L1747.3 107.9 1774.6 109.7 1785.4 110.8 1794.8 112.3 1803.1 114.0 1810.2 116.0 1816.6 118.4 1822.2 121.3 1827.2 124.6 1831.6 128.5 1835.6 133.1 1839.1 138.2 1842.4 144.4 1845.2 151.3 1847.9 159.4 1850.3 168.1 1852.4 177.9 1854.5 190.0 1858.1 218.3 1861.2 252.7 1863.7 290.8 1866.2 340.6 1873.3 523.9 1874.9 548.8 1875.7 555.0 1876.2 556.6 1876.6 555.2 1877.0 550.1 1878.0 523.5 1881.4 365.0 1883.3 293.9 1885.3 243.9 1887.4 206.8 1888.9 187.8 1890.5 173.4 1892.2 161.0 1894.3 149.9 1896.8 140.4 1899.5 133.1 1902.8 126.9 1906.4 122.1 1910.3 118.5 1914.7 115.6 1919.9 113.3 1926.1 111.4 1933.4 109.8 1942.0 108.6 1965.7 106.9 1999.2 106.0 2051.7 105.4 2286.3 105.0"/>
<path d="M1709.2 110.1L1754.2 111.1 1786.0 112.6 1809.3 114.9 1818.5 116.4 1826.6 118.2 1833.7 120.4 1840.1 123.0 1845.6 126.1 1850.4 129.7 1854.9 133.9 1858.7 138.8 1862.2 144.5 1865.3 150.9 1868.1 158.6 1870.6 166.9 1873.2 177.4 1875.3 188.5 1879.1 216.1 1882.4 250.6 1885.1 290.1 1887.6 338.6 1895.1 528.4 1896.4 549.1 1897.2 555.1 1897.8 556.6 1898.2 555.0 1898.6 549.8 1899.5 523.1 1903.0 365.8 1904.7 301.5 1906.6 250.3 1908.8 212.2 1910.3 192.8 1911.8 178.0 1913.6 165.4 1915.7 154.1 1918.0 145.1 1920.7 137.5 1923.8 131.4 1927.4 126.3 1931.1 122.8 1935.5 119.7 1940.5 117.3 1946.5 115.4 1953.4 113.8 1961.9 112.6 1984.6 110.8 2016.5 109.8 2066.4 109.2 2286.3 108.8"/>
<path d="M1709.2 113.6L1761.5 114.4 1797.9 115.7 1824.3 117.8 1834.7 119.2 1843.5 120.8 1851.4 122.8 1858.3 125.2 1864.3 128.0 1869.7 131.4 1874.3 135.3 1878.5 139.9 1882.4 145.5 1885.7 151.6 1888.7 159.0 1891.4 167.2 1893.9 176.8 1896.2 188.0 1898.4 200.7 1900.3 215.0 1903.7 249.8 1906.4 287.8 1909.1 338.6 1916.6 527.1 1918.0 548.2 1918.8 554.7 1919.3 556.6 1919.7 555.7 1920.1 551.3 1921.1 526.3 1924.5 370.8 1926.5 300.2 1928.2 254.6 1930.3 216.3 1933.2 183.5 1934.9 170.5 1937.0 158.7 1939.3 149.4 1941.8 142.2 1944.9 135.8 1948.4 130.7 1952.0 127.0 1956.1 124.0 1960.9 121.6 1966.7 119.5 1973.4 117.9 1981.5 116.6 1991.3 115.5 2003.2 114.7 2033.6 113.7 2080.8 113.1 2286.3 112.6"/>
<path d="M1709.2 103.9L1769.0 104.7 1810.0 105.9 1839.3 107.8 1850.6 109.0 1860.5 110.6 1869.1 112.5 1876.6 114.8 1883.2 117.5 1888.9 120.7 1893.9 124.5 1898.4 129.0 1902.4 134.3 1905.9 140.2 1909.1 147.5 1912.2 156.3 1914.9 166.3 1917.2 177.1 1919.3 189.4 1921.5 204.8 1924.9 238.8 1927.8 279.2 1930.5 330.2 1938.2 526.8 1939.5 548.3 1940.3 554.8 1940.9 556.6 1941.3 555.5 1941.7 550.8 1942.6 525.0 1946.1 366.1 1948.0 294.2 1949.7 247.8 1951.7 211.7 1954.5 177.1 1956.3 163.4 1958.2 152.1 1960.5 142.1 1963.0 134.3 1965.9 127.8 1969.4 122.4 1972.8 118.5 1976.9 115.3 1981.5 112.7 1987.1 110.6 1993.6 108.8 2001.3 107.4 2010.5 106.3 2021.9 105.5 2050.8 104.4 2095.2 103.7 2286.3 103.1"/>
<path d="M1709.2 107.5L1777.3 108.2 1823.3 109.3 1855.6 110.9 1868.1 112.1 1878.9 113.5 1888.4 115.2 1896.6 117.4 1903.7 119.9 1909.9 122.9 1915.3 126.5 1920.1 130.8 1924.3 135.8 1928.0 141.5 1931.5 148.5 1934.5 156.5 1937.4 166.3 1939.9 177.1 1942.2 189.7 1944.4 204.3 1948.0 238.6 1951.1 280.7 1953.8 331.0 1961.7 529.8 1963.0 549.8 1963.8 555.5 1964.4 556.6 1965.1 548.3 1966.1 520.1 1969.4 369.9 1971.1 304.2 1972.8 256.0 1974.9 215.4 1977.8 180.8 1979.4 168.4 1981.3 156.7 1983.4 147.2 1985.9 139.0 1988.6 132.6 1991.9 127.1 1995.2 123.2 1999.0 119.8 2003.4 117.1 2008.8 114.8 2015.0 113.0 2022.5 111.5 2031.3 110.4 2041.9 109.5 2069.2 108.2 2110.6 107.5 2286.3 106.9"/>
<path d="M1709.2 111.2L1786.2 111.8 1837.4 112.7 1873.0 114.2 1886.6 115.2 1898.4 116.5 1908.6 118.1 1917.4 120.1 1925.1 122.5 1931.7 125.2 1937.4 128.6 1942.4 132.5 1946.9 137.2 1950.9 142.7 1954.5 149.4 1957.8 157.2 1960.7 166.1 1963.4 176.8 1965.9 189.5 1968.0 203.0 1969.9 218.3 1971.9 237.1 1974.9 277.1 1977.8 329.0 1985.9 530.2 1987.3 550.0 1988.0 555.5 1988.6 556.6 1989.4 548.2 1990.3 520.1 1993.6 371.1 1995.3 306.0 1997.1 258.3 1999.0 221.1 2001.7 187.5 2003.2 174.4 2005.2 162.1 2007.3 152.1 2009.6 144.1 2012.3 137.4 2015.4 131.8 2018.6 127.6 2022.3 124.2 2026.5 121.4 2031.5 119.1 2037.5 117.2 2044.4 115.6 2052.7 114.4 2062.7 113.5 2088.1 112.2 2126.6 111.4 2286.3 110.7"/>
<path d="M1709.2 114.9L1795.0 115.4 1851.4 116.2 1890.1 117.6 1917.4 119.7 1928.4 121.2 1937.8 123.1 1945.9 125.3 1953.0 128.0 1959.0 131.1 1964.4 134.9 1969.0 139.3 1973.2 144.7 1977.1 151.2 1980.5 158.9 1983.6 167.9 1986.5 178.9 1989.0 191.2 1991.1 204.3 1993.2 220.7 1995.2 239.3 1998.2 278.7 2001.1 329.9 2009.2 529.4 2010.5 549.5 2011.3 555.3 2011.9 556.6 2012.7 549.3 2013.6 522.3 2018.6 309.8 2020.4 262.0 2022.3 224.8 2025.0 191.1 2026.5 178.0 2028.3 166.8 2030.2 157.3 2032.5 148.9 2035.0 142.3 2038.1 136.4 2041.1 132.2 2044.6 128.7 2048.6 125.8 2053.5 123.4 2059.0 121.4 2065.6 119.8 2073.3 118.5 2082.7 117.5 2106.4 116.1 2141.8 115.3 2286.3 114.6"/>
<path d="M1709.2 105.4L1804.6 105.8 1866.4 106.6 1908.4 107.9 1937.8 109.9 1949.5 111.4 1959.6 113.1 1968.2 115.3 1975.5 117.8 1982.1 121.0 1987.6 124.7 1992.7 129.3 1996.9 134.4 2000.9 140.9 2004.6 148.7 2007.7 157.4 2010.5 167.9 2013.2 180.7 2015.5 194.7 2017.7 210.9 2019.6 229.3 2022.5 265.3 2025.0 307.4 2027.9 371.2 2033.4 518.7 2035.0 545.8 2035.8 553.5 2036.5 556.6 2036.9 555.6 2037.3 551.0 2038.3 525.5 2041.7 367.3 2043.5 301.7 2045.2 253.7 2046.9 219.5 2049.4 186.3 2051.0 172.3 2052.7 160.2 2054.6 150.1 2056.7 141.8 2059.2 134.6 2061.9 128.9 2064.8 124.5 2068.3 120.6 2072.1 117.4 2076.6 114.9 2081.7 112.7 2087.9 111.0 2095.0 109.6 2103.7 108.5 2125.4 106.9 2157.8 106.0 2206.8 105.5 2286.3 105.2"/>
<path d="M1709.2 109.1L1814.1 109.5 1881.2 110.2 1926.6 111.4 1958.0 113.2 1970.7 114.6 1981.3 116.2 1990.3 118.2 1998.2 120.7 2005.0 123.6 2010.9 127.2 2016.1 131.5 2020.6 136.4 2024.8 142.6 2028.6 150.2 2031.9 158.9 2035.0 169.5 2037.7 181.7 2040.0 195.1 2042.1 210.5 2044.2 229.8 2047.1 264.8 2049.8 309.2 2052.7 372.4 2058.3 518.7 2059.8 545.7 2060.6 553.4 2061.3 556.5 2061.7 555.7 2062.1 551.3 2063.1 526.3 2066.5 369.6 2068.3 304.4 2069.8 261.2 2071.5 225.8 2074.0 191.6 2077.1 166.0 2078.9 156.3 2081.0 147.4 2083.3 140.2 2085.8 134.4 2088.5 129.7 2091.8 125.6 2095.4 122.2 2099.4 119.6 2104.3 117.3 2109.8 115.5 2116.6 113.9 2124.5 112.7 2144.3 111.0 2173.3 110.0 2217.0 109.3 2286.3 109.0"/>
<path d="M1709.2 112.8L1824.1 113.2 1897.0 113.8 1945.7 114.9 1979.2 116.6 1992.5 117.9 2003.8 119.4 2013.4 121.3 2021.7 123.6 2028.8 126.5 2035.0 129.8 2040.4 133.9 2045.0 138.6 2049.4 144.6 2053.5 152.1 2056.9 160.7 2060.0 170.8 2062.7 182.3 2065.2 196.0 2067.5 212.3 2069.6 231.2 2072.7 268.0 2075.4 312.3 2078.3 375.3 2083.9 520.1 2085.4 546.5 2086.2 553.8 2086.9 556.6 2087.3 555.3 2087.7 550.5 2088.5 531.2 2093.1 331.0 2094.8 276.8 2096.8 234.4 2099.3 198.3 2102.1 172.7 2103.9 162.3 2105.6 154.3 2107.7 146.8 2110.2 140.2 2112.9 135.0 2115.8 130.9 2119.1 127.5 2122.9 124.5 2127.4 122.1 2132.5 120.0 2138.5 118.4 2145.6 117.1 2163.5 115.2 2189.1 114.0 2227.0 113.3 2286.3 112.9"/>
<path d="M1709.2 103.3L1834.3 103.6 1912.8 104.3 1964.7 105.3 2000.3 107.0 2014.4 108.2 2026.3 109.7 2036.3 111.5 2045.0 113.8 2052.5 116.6 2058.8 119.9 2064.4 124.0 2069.2 128.6 2073.9 134.7 2077.9 142.0 2081.6 150.8 2084.6 160.7 2087.5 172.8 2090.0 186.4 2092.3 202.5 2094.4 221.1 2097.5 257.4 2100.4 304.8 2103.3 368.3 2109.1 520.8 2110.6 547.1 2111.4 554.2 2112.2 556.6 2112.9 549.1 2113.9 521.4 2118.7 310.0 2120.2 264.0 2121.8 229.9 2124.1 194.5 2126.8 168.3 2128.3 157.9 2130.0 148.8 2132.0 141.1 2134.3 134.0 2136.6 128.8 2139.3 124.1 2142.4 120.2 2145.8 117.0 2149.9 114.2 2154.5 111.9 2159.9 110.1 2166.2 108.5 2173.5 107.3 2182.0 106.3 2204.3 104.9 2236.8 104.0 2286.3 103.5"/>
<path d="M1709.2 107.0L1845.2 107.4 1929.5 107.9 1985.0 108.9 2022.7 110.4 2037.5 111.6 2050.0 113.0 2060.6 114.7 2069.6 116.9 2077.3 119.5 2084.1 122.7 2089.8 126.6 2094.8 131.1 2099.6 137.0 2103.9 144.1 2107.7 152.9 2111.0 163.0 2113.9 174.7 2116.6 189.0 2118.9 204.7 2121.0 223.1 2124.1 258.7 2127.0 305.2 2130.0 372.5 2135.6 519.3 2137.2 546.2 2137.9 553.7 2138.7 556.6 2139.1 555.4 2139.5 550.7 2140.2 531.4 2144.9 328.7 2146.4 279.0 2148.1 238.0 2150.3 203.5 2152.8 176.8 2155.8 156.4 2157.6 148.4 2159.7 141.0 2161.8 135.4 2164.3 130.4 2167.0 126.2 2170.1 122.7 2173.7 119.7 2177.8 117.2 2182.6 115.1 2188.0 113.4 2194.1 112.0 2201.4 110.9 2220.1 109.2 2246.9 108.2 2286.3 107.5"/>
<path d="M1709.2 110.8L1856.4 111.1 1946.9 111.6 2005.7 112.5 2045.4 113.9 2061.0 115.0 2074.0 116.4 2085.0 118.0 2094.4 120.1 2102.5 122.7 2109.5 125.7 2115.4 129.4 2120.6 133.8 2125.6 139.6 2130.0 146.7 2133.9 155.1 2137.2 164.7 2140.2 176.6 2142.9 190.4 2145.4 207.0 2147.6 225.0 2150.6 260.0 2153.5 305.8 2156.6 372.0 2162.4 521.9 2163.9 547.5 2164.7 554.4 2165.5 556.6 2166.2 548.9 2167.0 528.1 2171.4 333.8 2173.0 283.7 2174.5 246.3 2176.4 212.9 2178.7 185.9 2181.4 165.6 2184.7 150.0 2186.6 143.7 2188.7 138.3 2191.2 133.4 2193.9 129.5 2197.0 126.1 2200.5 123.3 2204.3 120.9 2208.9 118.9 2214.1 117.2 2220.1 115.9 2235.1 113.8 2256.1 112.5 2286.3 111.7"/>
<path d="M1709.2 114.5L1964.4 115.3 2026.7 116.1 2068.5 117.5 2084.8 118.5 2098.5 119.8 2110.0 121.4 2119.8 123.3 2128.3 125.8 2135.4 128.7 2141.6 132.2 2147.0 136.4 2152.2 142.1 2156.6 148.7 2160.6 157.0 2164.1 166.7 2167.2 178.1 2169.9 191.2 2172.4 207.1 2174.7 225.9 2178.0 262.3 2180.8 307.6 2183.9 373.1 2189.7 521.8 2191.2 547.4 2192.0 554.3 2192.8 556.6 2193.5 549.2 2194.3 528.9 2198.6 343.6 2201.4 257.6 2203.2 224.8 2205.1 199.1 2207.4 178.0 2210.3 160.8 2213.8 147.8 2215.7 142.7 2218.0 138.0 2220.5 134.1 2223.2 130.9 2226.3 128.1 2229.9 125.6 2234.0 123.5 2238.6 121.8 2243.8 120.4 2249.9 119.2 2265.1 117.4 2286.3 116.2"/>
<path d="M1709.2 105.1L1981.5 105.8 2047.3 106.6 2091.2 107.9 2108.3 108.9 2122.5 110.1 2134.5 111.7 2144.7 113.6 2153.3 116.0 2160.8 119.0 2167.2 122.4 2172.8 126.7 2178.2 132.4 2182.8 139.2 2186.8 147.4 2190.3 156.8 2193.4 168.0 2196.2 181.9 2198.7 197.6 2201.1 216.2 2204.3 252.3 2207.4 300.6 2210.5 367.1 2216.3 519.2 2217.8 546.2 2218.6 553.7 2219.3 556.6 2219.7 555.4 2220.1 550.6 2221.1 524.6 2225.1 342.4 2227.6 262.4 2229.1 229.2 2230.9 201.9 2232.8 180.4 2234.9 163.7 2237.6 149.1 2240.9 137.6 2242.8 132.8 2244.9 128.6 2247.2 125.0 2249.7 121.9 2252.6 119.2 2255.7 116.9 2259.4 114.9 2263.4 113.1 2273.2 110.4 2286.3 108.5"/>
<path d="M1709.2 108.8L1999.8 109.5 2069.2 110.2 2115.0 111.5 2133.1 112.4 2147.9 113.6 2160.5 115.1 2170.8 117.0 2179.7 119.2 2187.4 122.0 2193.9 125.4 2199.7 129.5 2205.3 135.1 2210.1 141.8 2214.1 149.6 2217.8 159.2 2221.1 170.7 2224.0 184.3 2226.5 199.6 2228.8 217.9 2232.2 255.6 2235.3 303.9 2238.4 370.1 2244.2 520.8 2245.7 547.0 2246.5 554.1 2247.2 556.6 2248.0 549.6 2249.0 522.8 2252.4 365.3 2254.5 289.4 2256.9 234.4 2259.6 194.8 2261.3 177.9 2263.4 163.0 2265.7 151.5 2268.6 141.5 2271.9 133.8 2275.9 127.5 2280.5 122.8 2286.3 119.0"/>
</g>
<rect x="1711.2" y="103.0" width="573.1" height="453.6" fill="none" stroke="#505050" stroke-width="3"/>
<path d="M1763.4 556.6v-9 M1763.4 103.0v9M1936.9 556.6v-9 M1936.9 103.0v9M2110.4 556.6v-9 M2110.4 103.0v9M1850.2 556.6v-5 M1850.2 103.0v5M2023.7 556.6v-5 M2023.7 103.0v5M2197.2 556.6v-5 M2197.2 103.0v5M1711.2 329.8h9 M2284.3 329.8h-9M1711.2 443.2h5 M2284.3 443.2h-5M1711.2 216.4h5 M2284.3 216.4h-5" stroke="#505050" stroke-width="2.6" fill="none"/>
<text x="1570.5" y="60.0" text-anchor="start" style="font-family:'Liberation Serif','Times New Roman',serif;font-weight:bold;font-size:60.0px" fill="#000">(c)</text>
<text x="1711.0" y="87.3" text-anchor="start" style="font-family:'Liberation Sans',Arial,sans-serif;font-weight:bold;font-size:31.0px" fill="#1a1a1a">20°</text>
<text x="2215.5" y="86.6" text-anchor="start" style="font-family:'Liberation Sans',Arial,sans-serif;font-weight:bold;font-size:31.0px" fill="#1a1a1a">45°</text>
<line x1="1737.5" y1="94.5" x2="2229" y2="94.8" stroke="#8a8a8a" stroke-width="3.2"/>
<polygon points="2227,91 2241.5,94.8 2227,98.6" fill="#111"/>
<text x="1701.2" y="112.2" text-anchor="end" style="font-family:'Liberation Sans',Arial,sans-serif;font-weight:bold;font-size:31.0px" fill="#1a1a1a">1.0</text>
<text x="1701.2" y="339.0" text-anchor="end" style="font-family:'Liberation Sans',Arial,sans-serif;font-weight:bold;font-size:31.0px" fill="#1a1a1a">0.5</text>
<text x="1701.2" y="565.8" text-anchor="end" style="font-family:'Liberation Sans',Arial,sans-serif;font-weight:bold;font-size:31.0px" fill="#1a1a1a">0.0</text>
<text x="1763.4" y="590.6" text-anchor="middle" style="font-family:'Liberation Sans',Arial,sans-serif;font-weight:bold;font-size:31.0px" fill="#1a1a1a">0.52</text>
<text x="1936.9" y="590.6" text-anchor="middle" style="font-family:'Liberation Sans',Arial,sans-serif;font-weight:bold;font-size:31.0px" fill="#1a1a1a">0.53</text>
<text x="2110.4" y="590.6" text-anchor="middle" style="font-family:'Liberation Sans',Arial,sans-serif;font-weight:bold;font-size:31.0px" fill="#1a1a1a">0.54</text>
<text x="2283.9" y="590.6" text-anchor="middle" style="font-family:'Liberation Sans',Arial,sans-serif;font-weight:bold;font-size:31.0px" fill="#1a1a1a">0.55</text>
<text x="1998.3" y="647.0" text-anchor="middle" style="font-family:'Liberation Sans',Arial,sans-serif;font-size:39.9px" fill="#1a1a1a">Frequency(THz)</text>
<text x="1628.2" y="318.1" text-anchor="middle" style="font-family:'Liberation Sans',Arial,sans-serif;font-size:38.1px" fill="#1a1a1a" transform="rotate(-90 1628.2 318.1)">Transmission</text>
<g clip-path="url(#cd)" fill="none" stroke="#277427" stroke-width="3.1" stroke-opacity="0.8" stroke-linejoin="round">
<path d="M164.3 1148.0L167.7 1140.8 170.8 1132.9 173.7 1124.3 176.3 1115.0 181.4 1092.7 186.0 1065.6 189.8 1035.8 193.2 1002.4 201.6 892.3 203.1 880.8 203.8 878.1 204.3 877.5 205.0 878.7 205.7 882.1 207.2 894.8 213.9 985.4 218.3 1031.4 220.7 1051.6 223.3 1070.4 226.2 1087.6 229.1 1102.0 232.7 1116.8 236.6 1129.5 240.9 1140.8 245.5 1150.2 250.6 1158.3 256.3 1165.3 262.8 1171.3 270.1 1176.3 277.5 1180.2 285.7 1183.4 295.1 1186.1 306.0 1188.4 318.3 1190.3 332.7 1191.9 349.3 1193.2 369.1 1194.3 417.8 1195.8 486.7 1196.8 587.6 1197.4 742.3 1197.7"/>
<path d="M164.3 1166.4L169.8 1160.8 174.9 1154.2 179.5 1146.6 183.6 1138.1 187.4 1128.1 190.8 1117.4 193.9 1105.4 197.1 1090.9 201.9 1062.3 206.0 1029.9 210.1 986.9 216.6 902.8 218.0 891.0 218.8 887.9 219.5 887.0 220.2 888.3 220.9 891.9 222.4 904.4 228.9 988.6 233.4 1035.4 235.9 1054.8 238.5 1072.7 241.2 1087.9 244.0 1101.9 247.7 1116.2 251.5 1128.6 255.6 1139.0 260.2 1148.2 265.3 1156.1 270.8 1162.8 277.1 1168.5 284.3 1173.5 291.5 1177.2 299.7 1180.4 309.1 1183.1 319.7 1185.4 331.7 1187.2 345.7 1188.8 362.1 1190.1 381.1 1191.1 428.4 1192.6 495.6 1193.6 593.4 1194.2 742.3 1194.6"/>
<path d="M164.3 1178.4L172.5 1173.9 179.7 1168.6 186.0 1162.4 191.5 1155.1 196.6 1146.4 201.2 1136.2 205.3 1124.6 209.1 1110.9 212.2 1097.1 215.4 1080.5 218.0 1063.6 220.7 1043.5 225.3 998.8 232.0 914.1 233.4 901.8 234.2 898.3 234.9 896.9 235.6 897.7 236.3 900.6 237.8 912.0 244.5 996.4 249.1 1041.7 253.9 1076.3 256.6 1091.3 259.5 1105.0 262.8 1118.2 266.7 1130.5 270.8 1140.9 275.4 1150.0 280.4 1157.9 286.0 1164.5 292.2 1170.2 299.2 1175.0 306.5 1178.7 314.4 1181.8 323.6 1184.4 333.9 1186.7 345.7 1188.5 359.5 1190.1 375.4 1191.3 393.9 1192.4 439.9 1193.9 505.0 1194.9 599.2 1195.5 742.3 1195.8"/>
<path d="M164.3 1185.6L175.6 1182.1 185.3 1177.8 193.5 1172.7 200.7 1166.3 206.9 1158.7 212.5 1149.7 217.5 1138.9 222.1 1126.0 226.0 1112.1 229.6 1095.9 233.0 1077.0 235.9 1057.3 238.5 1035.5 241.2 1009.4 248.4 922.2 249.8 911.0 250.6 908.1 251.3 907.3 252.0 908.6 252.7 911.9 254.2 923.7 260.7 1003.1 265.0 1045.2 267.4 1063.7 270.1 1080.9 272.7 1095.4 275.6 1108.8 279.0 1121.7 282.8 1133.6 286.9 1143.7 291.3 1152.2 296.1 1159.6 301.6 1166.2 307.7 1171.7 314.6 1176.4 321.6 1180.0 329.6 1183.1 338.5 1185.7 348.6 1187.9 360.2 1189.8 373.7 1191.3 389.1 1192.6 407.2 1193.6 451.7 1195.1 514.6 1196.1 605.4 1196.7 742.3 1197.1"/>
<path d="M164.3 1186.3L179.2 1183.6 191.5 1180.2 201.9 1175.9 206.5 1173.4 210.8 1170.6 214.9 1167.4 218.5 1164.0 221.9 1160.3 225.3 1155.9 231.0 1146.4 236.3 1134.6 240.9 1121.2 245.0 1105.7 248.9 1087.0 252.2 1066.6 255.1 1045.0 258.0 1018.7 265.7 931.0 267.2 921.0 267.9 918.6 268.4 918.1 269.1 919.1 269.8 922.0 271.3 932.9 278.0 1010.9 282.4 1050.6 287.2 1082.8 289.8 1096.7 292.5 1108.5 295.8 1121.1 299.7 1132.6 303.8 1142.4 308.1 1150.7 313.0 1157.8 318.3 1164.0 324.3 1169.3 331.0 1173.8 338.0 1177.4 345.7 1180.3 354.4 1182.8 364.3 1185.0 375.6 1186.7 388.6 1188.2 421.1 1190.5 464.3 1192.0 524.7 1192.9 611.7 1193.5 742.3 1193.9"/>
<path d="M164.3 1189.8L183.1 1187.6 198.5 1184.8 211.3 1181.1 216.8 1178.9 221.9 1176.4 226.7 1173.6 231.0 1170.5 235.1 1167.0 238.7 1163.2 242.1 1159.1 245.5 1154.2 251.3 1143.5 256.3 1130.8 260.9 1115.6 265.0 1098.0 268.9 1076.8 272.2 1053.3 275.1 1028.3 283.1 940.9 284.5 931.0 285.2 928.6 285.7 928.0 286.5 928.8 287.2 931.5 288.6 941.8 295.4 1017.3 299.7 1055.9 304.5 1087.3 307.2 1100.8 309.8 1112.3 313.2 1124.5 316.8 1135.1 320.7 1144.2 325.0 1152.4 329.6 1159.2 334.9 1165.4 340.7 1170.6 347.4 1175.1 354.2 1178.6 361.6 1181.5 370.1 1184.0 379.7 1186.1 390.8 1187.9 403.3 1189.4 434.9 1191.7 476.6 1193.2 534.9 1194.2 618.2 1194.8 742.3 1195.1"/>
<path d="M164.3 1192.6L187.7 1190.8 206.2 1188.4 221.4 1185.3 227.9 1183.4 233.9 1181.2 239.2 1178.9 244.3 1176.1 248.9 1173.0 253.2 1169.5 257.1 1165.6 260.7 1161.3 264.0 1156.6 267.2 1151.3 272.7 1139.5 277.8 1124.8 282.4 1107.2 286.5 1086.7 290.1 1063.4 293.2 1038.0 301.6 949.1 303.1 940.2 303.8 938.2 304.3 937.9 305.0 939.1 305.7 942.1 307.2 952.6 313.7 1023.5 317.8 1059.2 322.6 1090.3 325.2 1103.6 327.9 1115.0 331.0 1126.2 334.6 1136.8 338.5 1145.9 342.8 1154.1 347.4 1160.9 352.7 1167.1 358.5 1172.2 364.8 1176.5 371.3 1179.8 378.7 1182.8 386.9 1185.3 396.3 1187.4 406.9 1189.1 419.2 1190.6 449.6 1192.9 489.8 1194.4 545.5 1195.4 624.7 1196.0 742.3 1196.4"/>
<path d="M164.3 1194.9L192.5 1193.5 214.7 1191.4 232.2 1188.8 240.0 1187.1 246.7 1185.3 253.0 1183.1 258.7 1180.6 263.8 1177.9 268.6 1174.7 273.0 1171.2 276.8 1167.5 280.7 1162.9 284.0 1158.1 287.2 1152.8 290.3 1146.6 293.2 1139.7 295.8 1132.3 300.9 1114.6 305.2 1094.4 309.1 1070.9 312.5 1044.7 320.9 958.9 322.4 950.1 323.1 948.2 323.6 947.8 324.3 948.9 325.0 951.7 326.4 961.8 333.0 1030.3 337.0 1064.9 341.6 1093.7 344.3 1106.8 346.9 1117.9 350.1 1129.0 353.7 1139.4 357.5 1148.4 361.6 1156.0 366.2 1162.7 371.3 1168.6 376.8 1173.5 383.1 1177.8 389.3 1181.1 396.6 1184.0 404.5 1186.5 413.7 1188.6 424.0 1190.4 435.8 1191.8 465.0 1194.1 503.5 1195.6 556.5 1196.6 631.7 1197.2 742.3 1197.6"/>
<path d="M164.3 1192.5L197.8 1191.3 223.6 1189.6 243.8 1187.4 260.2 1184.3 267.2 1182.4 273.4 1180.3 279.2 1177.8 284.5 1175.0 289.3 1171.8 293.7 1168.3 297.8 1164.3 301.6 1159.6 305.2 1154.3 308.4 1148.9 311.5 1142.3 314.4 1135.2 319.7 1118.5 324.3 1099.0 328.1 1077.5 331.7 1051.6 334.4 1028.1 340.7 965.5 342.1 957.4 342.8 955.6 343.3 955.4 344.0 956.6 344.8 959.4 346.2 969.3 352.7 1034.8 356.8 1067.8 361.4 1095.3 366.4 1117.5 369.6 1128.2 373.2 1138.3 376.8 1146.5 380.9 1153.9 385.5 1160.6 390.3 1166.0 395.6 1170.7 401.6 1174.9 407.9 1178.2 414.6 1180.9 422.3 1183.3 431.3 1185.4 441.1 1187.1 452.5 1188.6 480.6 1190.9 517.3 1192.4 567.9 1193.4 638.7 1194.0 742.3 1194.4"/>
<path d="M164.3 1194.3L203.6 1193.3 233.4 1191.8 256.6 1189.8 274.9 1187.1 282.8 1185.4 289.8 1183.4 296.1 1181.2 301.9 1178.6 306.9 1175.7 311.8 1172.4 316.1 1168.6 320.2 1164.3 324.0 1159.4 327.7 1153.7 330.8 1147.8 333.9 1140.8 336.8 1133.0 339.5 1124.7 344.3 1105.6 347.9 1086.9 351.3 1064.9 354.9 1034.9 360.9 975.6 362.3 966.3 363.1 963.8 363.8 962.9 364.5 963.8 365.2 966.3 366.7 975.5 373.2 1039.2 377.3 1071.6 381.6 1097.3 386.7 1119.5 389.8 1130.1 393.2 1139.5 396.8 1147.8 400.9 1155.3 405.2 1161.6 409.8 1167.0 415.1 1171.8 420.9 1175.9 426.9 1179.1 433.7 1182.0 441.1 1184.4 449.6 1186.5 459.2 1188.2 470.0 1189.7 496.8 1192.0 531.7 1193.5 579.2 1194.6 645.7 1195.2 742.3 1195.7"/>
<path d="M164.3 1195.9L209.6 1195.0 243.6 1193.8 269.6 1192.0 289.8 1189.5 298.5 1188.0 306.2 1186.2 313.2 1184.1 319.5 1181.7 325.2 1178.8 330.3 1175.8 334.9 1172.3 339.2 1168.2 343.3 1163.5 347.2 1158.1 350.8 1151.9 353.9 1145.3 356.8 1138.2 359.7 1129.7 362.3 1120.6 365.0 1109.8 368.9 1090.5 372.2 1069.0 375.8 1039.8 382.1 978.7 383.5 969.6 384.3 967.1 385.0 966.2 385.7 967.1 386.4 969.5 387.9 978.7 394.4 1041.9 398.5 1074.0 402.8 1099.5 407.6 1120.5 410.8 1131.2 413.9 1140.1 417.5 1148.5 421.4 1155.7 425.7 1162.3 430.3 1167.7 435.4 1172.5 440.9 1176.5 446.7 1179.9 453.2 1182.7 460.4 1185.2 468.4 1187.3 477.5 1189.1 487.9 1190.6 513.4 1193.0 546.4 1194.6 591.2 1195.7 653.2 1196.4 742.3 1196.9"/>
<path d="M164.3 1193.0L215.9 1192.3 254.2 1191.2 283.1 1189.6 305.5 1187.3 314.9 1185.9 323.3 1184.2 330.8 1182.3 337.5 1180.1 343.6 1177.6 349.1 1174.6 354.2 1171.2 358.7 1167.4 363.1 1162.9 367.2 1157.6 371.0 1151.5 374.4 1145.0 377.5 1137.7 380.7 1129.0 383.3 1120.2 386.0 1109.8 390.1 1090.0 393.7 1067.4 397.3 1038.4 403.3 980.7 404.8 971.4 405.5 968.7 406.2 967.7 406.9 968.3 407.6 970.5 409.1 979.1 415.6 1040.9 419.7 1072.6 423.8 1096.5 428.6 1117.6 431.7 1128.3 434.9 1137.2 438.2 1145.1 442.1 1152.4 446.2 1158.7 450.5 1164.0 455.3 1168.7 460.9 1172.9 466.4 1176.2 472.7 1179.2 479.7 1181.7 487.4 1183.8 496.1 1185.6 505.9 1187.2 530.0 1189.6 561.1 1191.3 603.0 1192.4 660.6 1193.2 742.3 1193.6"/>
<path d="M164.3 1194.5L222.8 1193.8 265.7 1192.8 297.8 1191.3 322.1 1189.2 332.2 1187.9 341.4 1186.3 349.6 1184.4 356.8 1182.2 363.3 1179.7 369.1 1176.9 374.4 1173.6 379.2 1169.9 383.8 1165.5 388.1 1160.2 392.0 1154.4 395.6 1147.8 399.0 1140.2 402.1 1131.7 405.0 1122.4 407.6 1112.2 411.7 1092.8 415.6 1069.1 419.4 1038.2 425.5 979.7 427.2 969.1 427.9 966.9 428.6 966.3 429.3 967.3 430.0 970.0 431.5 979.4 437.8 1040.1 441.6 1070.6 445.7 1095.2 450.3 1116.0 453.2 1126.4 456.3 1135.8 459.7 1144.1 463.3 1151.4 467.2 1157.8 471.5 1163.5 476.3 1168.6 481.6 1172.9 486.9 1176.3 492.9 1179.4 499.4 1182.0 506.9 1184.3 515.1 1186.2 524.5 1187.8 547.1 1190.4 576.3 1192.2 615.1 1193.4 667.9 1194.3 742.3 1194.8"/>
<path d="M164.3 1195.9L230.3 1195.3 277.8 1194.3 313.0 1192.9 339.5 1191.0 360.2 1188.2 368.9 1186.4 376.6 1184.3 383.5 1181.8 389.8 1179.0 395.4 1175.8 400.4 1172.1 405.2 1167.7 409.8 1162.5 413.9 1156.6 417.5 1150.1 421.1 1142.3 424.3 1134.0 427.2 1124.9 430.0 1114.1 434.4 1093.6 438.2 1069.9 442.1 1038.9 448.4 977.2 450.0 966.4 450.8 964.1 451.5 963.4 452.2 964.5 452.9 967.2 454.4 976.8 460.6 1038.4 464.5 1069.5 468.6 1094.6 472.9 1114.8 475.8 1125.6 478.7 1134.6 481.9 1142.7 485.5 1150.5 489.3 1157.2 493.4 1163.0 498.0 1168.2 502.8 1172.5 507.9 1176.1 513.7 1179.3 519.9 1182.1 526.9 1184.5 534.6 1186.5 543.5 1188.3 564.5 1191.1 591.5 1193.0 627.1 1194.4 675.3 1195.3 742.3 1195.9"/>
<path d="M164.3 1197.3L237.5 1196.7 289.8 1195.8 328.1 1194.5 356.8 1192.6 368.9 1191.3 379.2 1189.9 388.6 1188.1 396.8 1186.0 404.0 1183.7 410.5 1181.0 416.6 1177.7 421.9 1174.0 426.9 1169.6 431.5 1164.6 435.8 1158.6 439.7 1152.0 443.3 1144.3 446.7 1135.6 449.8 1125.8 452.7 1115.0 457.3 1093.4 461.4 1067.6 465.2 1035.9 471.7 970.1 473.2 960.6 473.9 958.1 474.6 957.3 475.3 958.2 476.1 960.8 477.5 970.5 483.8 1034.0 487.6 1066.2 491.5 1090.9 495.6 1111.1 498.2 1121.7 501.1 1131.5 504.3 1140.3 507.6 1148.2 511.2 1155.1 515.3 1161.5 519.7 1166.9 524.3 1171.5 529.1 1175.3 534.4 1178.7 540.4 1181.8 546.9 1184.3 554.1 1186.5 562.3 1188.5 571.5 1190.1 582.1 1191.5 606.9 1193.7 639.4 1195.2 682.8 1196.3 742.3 1197.0"/>
<path d="M164.3 1194.2L245.3 1193.7 302.4 1192.9 344.0 1191.6 374.9 1189.8 398.7 1187.2 408.6 1185.5 417.3 1183.5 425.0 1181.2 432.0 1178.4 438.2 1175.2 443.8 1171.6 449.3 1167.0 454.1 1161.8 458.5 1156.0 462.6 1149.1 466.4 1141.1 469.8 1132.4 472.9 1122.7 476.1 1111.0 480.9 1087.8 485.0 1061.5 488.8 1029.0 495.3 961.8 496.8 952.2 497.5 949.6 498.2 948.8 499.0 949.8 499.7 952.5 501.1 962.3 507.4 1027.3 511.0 1058.4 514.6 1082.7 518.7 1104.0 521.4 1115.1 524.0 1124.5 527.1 1133.9 530.3 1141.8 533.7 1148.8 537.5 1155.4 541.6 1161.0 545.9 1165.9 550.5 1170.0 555.6 1173.7 561.1 1176.8 567.1 1179.6 573.9 1182.0 581.4 1184.0 589.8 1185.9 599.4 1187.4 622.1 1189.8 651.2 1191.6 690.0 1192.8 742.3 1193.6"/>
<path d="M164.3 1195.5L253.4 1195.0 315.4 1194.2 360.2 1193.0 393.2 1191.2 406.9 1190.0 418.7 1188.6 429.1 1186.9 438.2 1184.9 446.2 1182.6 453.4 1179.8 459.9 1176.6 465.7 1172.9 471.2 1168.4 476.3 1163.1 480.9 1157.0 485.2 1149.8 489.1 1141.7 492.7 1132.3 495.8 1122.5 499.0 1110.6 503.8 1087.1 508.1 1058.8 512.2 1023.0 518.7 952.7 520.2 942.6 520.9 939.8 521.6 938.9 522.3 939.8 523.1 942.6 524.5 952.8 530.8 1020.7 534.4 1053.3 537.7 1077.1 541.6 1098.6 544.3 1110.6 546.9 1120.8 549.8 1130.2 552.7 1138.2 555.8 1145.5 559.4 1152.4 563.3 1158.4 567.4 1163.7 571.7 1168.2 576.3 1172.0 581.4 1175.5 587.1 1178.6 593.4 1181.3 600.4 1183.6 608.1 1185.6 616.8 1187.4 637.0 1190.1 663.0 1192.1 697.0 1193.5 742.3 1194.5"/>
<path d="M164.3 1196.9L261.6 1196.4 328.9 1195.6 376.8 1194.4 412.0 1192.7 426.4 1191.5 439.0 1190.1 449.8 1188.4 459.4 1186.4 468.1 1184.0 475.6 1181.2 482.3 1178.0 488.4 1174.2 494.1 1169.6 499.4 1164.1 504.3 1157.7 508.6 1150.4 512.7 1141.8 516.3 1132.3 519.7 1121.4 522.8 1109.2 527.9 1083.7 532.2 1054.1 536.3 1016.9 542.8 943.5 544.3 932.8 545.0 930.0 545.7 929.0 546.4 929.9 547.1 932.8 548.6 943.4 554.6 1011.7 558.2 1046.3 561.4 1070.0 565.0 1091.8 569.8 1114.2 572.4 1123.9 575.3 1133.0 578.5 1141.2 581.6 1148.1 585.2 1154.7 589.1 1160.4 593.2 1165.5 597.5 1169.8 602.3 1173.7 607.4 1177.0 612.9 1179.9 619.2 1182.5 626.2 1184.8 633.9 1186.8 642.3 1188.5 651.9 1190.0 674.6 1192.3 704.0 1194.0 742.3 1195.2"/>
<path d="M164.3 1193.8L270.3 1193.3 342.6 1192.6 393.9 1191.4 431.3 1189.7 446.4 1188.6 459.7 1187.2 471.0 1185.5 481.1 1183.5 490.0 1181.2 498.0 1178.4 505.0 1175.2 511.2 1171.5 517.3 1166.8 522.8 1161.3 527.6 1155.0 532.2 1147.5 536.3 1139.0 540.2 1129.0 543.8 1117.4 546.9 1105.1 552.0 1079.5 556.5 1047.9 560.6 1010.0 567.4 931.9 568.8 921.2 569.6 918.5 570.3 917.7 571.0 918.9 571.7 922.0 573.2 933.3 579.2 1003.7 582.6 1037.1 585.5 1060.0 588.8 1081.8 593.4 1104.7 598.5 1123.6 601.4 1132.1 604.2 1139.3 607.4 1146.0 611.0 1152.3 614.6 1157.6 618.5 1162.2 622.8 1166.5 627.4 1170.2 632.4 1173.6 638.0 1176.5 644.2 1179.1 651.0 1181.4 658.5 1183.4 666.6 1185.0 686.2 1187.8 710.7 1189.8 742.3 1191.3"/>
<path d="M164.3 1195.1L279.2 1194.6 356.8 1193.9 411.5 1192.8 451.0 1191.1 467.2 1189.9 480.9 1188.6 492.9 1186.9 503.5 1184.9 512.9 1182.5 521.1 1179.7 528.4 1176.4 534.9 1172.6 541.1 1167.8 546.9 1162.0 552.0 1155.4 556.5 1147.7 560.9 1138.5 564.7 1128.3 568.3 1116.4 571.5 1103.8 574.1 1091.1 576.8 1076.1 581.4 1043.3 585.7 1001.1 592.2 922.0 593.6 910.5 594.4 907.4 595.1 906.3 595.6 906.8 596.3 909.2 597.7 919.5 606.2 1018.8 609.3 1047.0 612.9 1072.9 617.3 1097.0 621.8 1116.3 627.1 1133.0 630.0 1140.2 633.2 1146.8 636.5 1152.7 639.9 1157.7 643.8 1162.5 647.9 1166.7 652.2 1170.3 657.0 1173.7 662.3 1176.7 668.1 1179.3 674.4 1181.6 681.1 1183.6 697.2 1186.9 717.2 1189.4 742.3 1191.3"/>
<path d="M164.3 1196.4L288.1 1195.9 371.0 1195.2 429.1 1194.2 470.8 1192.5 487.6 1191.3 502.3 1189.9 514.9 1188.3 525.9 1186.2 535.6 1183.8 544.0 1181.0 551.5 1177.8 558.2 1173.9 565.0 1168.7 570.8 1162.9 576.1 1156.0 580.6 1148.3 585.0 1139.1 589.1 1128.2 592.7 1116.1 596.1 1102.2 598.7 1089.2 601.4 1073.8 606.2 1038.0 610.5 994.0 617.0 911.7 618.5 899.8 619.2 896.6 619.9 895.5 620.4 896.0 621.1 898.5 622.6 909.4 630.5 1007.7 633.4 1036.0 636.8 1062.6 640.6 1086.6 644.7 1106.5 649.3 1123.7 654.6 1138.6 657.5 1145.0 660.6 1151.0 664.0 1156.4 667.4 1160.9 671.0 1165.1 675.1 1169.0 679.4 1172.4 684.2 1175.5 689.5 1178.4 695.1 1180.8 701.1 1182.9 707.8 1184.8 723.3 1188.0 742.3 1190.4"/>
<path d="M164.3 1197.7L297.5 1197.3 386.0 1196.6 447.4 1195.5 491.2 1193.8 509.1 1192.7 524.3 1191.3 537.5 1189.6 548.8 1187.6 558.9 1185.2 567.6 1182.3 575.3 1179.0 582.3 1175.1 589.1 1170.0 595.1 1164.0 600.6 1156.8 605.4 1148.7 609.8 1139.4 613.9 1128.4 617.7 1115.3 621.1 1101.1 624.0 1086.5 626.7 1070.6 631.5 1033.6 635.8 988.1 642.3 902.1 643.8 889.3 644.5 885.6 645.2 884.2 645.9 885.0 646.6 888.1 648.1 900.1 655.6 997.2 658.2 1025.1 661.1 1050.2 664.2 1072.4 667.9 1093.2 671.7 1110.8 676.0 1126.3 680.9 1139.5 686.4 1151.0 689.5 1156.2 692.7 1160.6 696.0 1164.6 699.9 1168.5 703.8 1171.8 708.1 1174.9 712.7 1177.7 717.7 1180.2 729.0 1184.4 742.3 1187.7"/>
<path d="M164.3 1194.5L307.2 1194.1 401.4 1193.5 466.2 1192.5 512.2 1190.8 530.8 1189.7 546.7 1188.3 560.4 1186.7 572.2 1184.7 582.6 1182.3 591.7 1179.5 599.7 1176.2 606.9 1172.2 613.9 1167.1 620.1 1161.0 625.7 1153.9 630.7 1145.5 635.3 1135.7 639.4 1124.6 643.3 1111.5 646.6 1097.3 649.5 1082.6 652.2 1066.7 654.8 1047.8 657.3 1027.5 661.6 981.2 668.3 890.4 669.8 877.8 670.5 874.4 671.2 873.3 671.9 874.6 672.7 878.1 674.1 890.9 680.9 981.8 685.7 1032.2 688.3 1053.6 691.0 1071.6 694.1 1089.3 697.2 1103.9 701.1 1118.6 705.2 1130.9 709.8 1141.8 714.8 1151.0 720.6 1159.1 726.9 1165.6 734.1 1171.3 742.3 1175.9"/>
<path d="M164.3 1195.8L317.1 1195.4 416.8 1194.8 485.2 1193.8 533.4 1192.2 552.7 1191.1 569.3 1189.7 583.5 1188.0 595.8 1186.0 606.4 1183.6 615.8 1180.8 624.0 1177.4 631.5 1173.3 638.7 1168.1 645.0 1162.0 650.7 1154.6 655.8 1146.1 660.4 1136.3 664.5 1125.2 668.3 1112.1 671.9 1096.8 674.8 1081.9 677.7 1064.1 680.4 1044.6 682.8 1023.7 687.1 976.2 693.9 882.2 695.3 868.9 696.0 865.2 696.8 863.9 697.5 865.0 698.2 868.4 699.7 881.4 705.9 969.0 709.5 1011.2 712.9 1042.1 716.8 1069.9 719.4 1085.4 722.1 1098.7 725.0 1110.9 727.8 1121.2 731.0 1130.5 734.6 1139.5 738.2 1146.9 742.3 1153.8"/>
</g>
<rect x="166.3" y="728.9" width="574.0" height="474.6" fill="none" stroke="#505050" stroke-width="3"/>
<path d="M248.4 1203.5v-9 M248.4 728.9v9M411.9 1203.5v-9 M411.9 728.9v9M575.4 1203.5v-9 M575.4 728.9v9M330.2 1203.5v-5 M330.2 728.9v5M493.7 1203.5v-5 M493.7 728.9v5M657.2 1203.5v-5 M657.2 728.9v5M166.3 966.3h9 M740.3 966.3h-9M166.3 1085.1h5 M740.3 1085.1h-5M166.3 847.6h5 M740.3 847.6h-5" stroke="#505050" stroke-width="2.6" fill="none"/>
<text x="24.6" y="673.5" text-anchor="start" style="font-family:'Liberation Serif','Times New Roman',serif;font-weight:bold;font-size:60.0px" fill="#000">(d)</text>
<text x="157.0" y="737.9" text-anchor="end" style="font-family:'Liberation Sans',Arial,sans-serif;font-weight:bold;font-size:32.0px" fill="#1a1a1a">1.0</text>
<text x="157.0" y="975.3" text-anchor="end" style="font-family:'Liberation Sans',Arial,sans-serif;font-weight:bold;font-size:32.0px" fill="#1a1a1a">0.5</text>
<text x="157.0" y="1212.8" text-anchor="end" style="font-family:'Liberation Sans',Arial,sans-serif;font-weight:bold;font-size:32.0px" fill="#1a1a1a">0.0</text>
<text x="248.4" y="1237.6" text-anchor="middle" style="font-family:'Liberation Sans',Arial,sans-serif;font-weight:bold;font-size:32.0px" fill="#1a1a1a">0.52</text>
<text x="411.9" y="1237.6" text-anchor="middle" style="font-family:'Liberation Sans',Arial,sans-serif;font-weight:bold;font-size:32.0px" fill="#1a1a1a">0.53</text>
<text x="575.4" y="1237.6" text-anchor="middle" style="font-family:'Liberation Sans',Arial,sans-serif;font-weight:bold;font-size:32.0px" fill="#1a1a1a">0.54</text>
<text x="738.9" y="1237.6" text-anchor="middle" style="font-family:'Liberation Sans',Arial,sans-serif;font-weight:bold;font-size:32.0px" fill="#1a1a1a">0.55</text>
<text x="453.0" y="1297.5" text-anchor="middle" style="font-family:'Liberation Sans',Arial,sans-serif;font-size:39.9px" fill="#1a1a1a">Frequency(THz)</text>
<text x="84.6" y="956.7" text-anchor="middle" style="font-family:'Liberation Sans',Arial,sans-serif;font-size:40.7px" fill="#1a1a1a" transform="rotate(-90 84.6 956.7)">Reflection</text>
<g clip-path="url(#ce)" fill="none" stroke="#5f78f6" stroke-width="2.9" stroke-opacity="0.66" stroke-linejoin="round">
<path d="M936.8 890.5L942.0 926.4 946.8 968.6 951.7 1026.1 960.5 1147.2 962.7 1167.5 963.9 1173.2 964.4 1174.1 964.9 1174.3 965.4 1172.9 966.2 1167.8 967.7 1147.7 973.9 1019.2 977.9 954.3 982.4 902.1 985.1 877.9 987.8 858.0 991.1 838.8 994.8 821.1 999.0 805.5 1003.5 792.8 1008.5 781.9 1014.2 772.4 1020.5 764.7 1027.7 758.2 1034.9 753.3 1043.1 749.2 1052.6 745.7 1063.5 742.7 1076.0 740.3 1090.7 738.4 1107.8 736.7 1128.3 735.4 1179.1 733.6 1252.5 732.5 1362.1 731.8 1534.1 731.4"/>
<path d="M936.8 815.6L940.3 825.0 943.8 835.8 947.0 847.5 950.0 859.9 955.7 889.1 960.7 922.1 964.9 957.7 968.9 999.5 980.1 1148.4 982.1 1164.7 983.1 1168.9 983.6 1169.8 984.1 1170.0 984.6 1168.8 985.4 1163.9 986.8 1144.3 993.1 1018.0 997.1 954.0 1001.5 902.5 1004.0 880.6 1006.8 860.6 1010.0 841.4 1013.7 823.7 1017.7 808.9 1022.2 795.9 1027.2 784.9 1032.7 775.7 1038.9 767.9 1046.1 761.2 1053.3 756.2 1061.3 752.2 1070.5 748.7 1081.2 745.7 1093.4 743.3 1107.8 741.3 1124.5 739.7 1144.2 738.4 1193.5 736.5 1264.5 735.4 1369.8 734.7 1534.1 734.3"/>
<path d="M936.8 780.8L943.0 789.1 948.8 798.7 954.0 809.5 958.7 821.4 963.2 835.2 967.4 850.9 971.4 868.7 974.9 887.3 980.4 923.9 985.1 965.1 990.1 1021.3 998.8 1140.0 1001.0 1160.2 1002.3 1166.0 1002.8 1167.0 1003.3 1167.2 1003.8 1166.1 1004.5 1161.3 1006.0 1142.1 1012.2 1016.3 1016.2 952.5 1020.7 901.1 1023.2 879.3 1025.9 859.3 1029.2 840.1 1032.9 822.5 1036.9 807.7 1041.1 795.4 1045.9 784.8 1051.3 775.3 1057.3 767.6 1064.3 760.9 1071.2 756.0 1079.2 751.7 1088.2 748.2 1098.6 745.2 1110.6 742.7 1124.5 740.6 1140.7 739.0 1159.9 737.6 1207.4 735.7 1275.9 734.5 1377.0 733.8 1534.1 733.3"/>
<path d="M936.8 762.2L941.8 765.5 946.3 768.9 950.7 772.9 954.7 777.0 958.7 781.7 962.4 786.7 969.2 797.8 975.4 810.9 980.9 825.6 985.8 842.4 990.6 862.1 994.3 881.1 997.8 902.3 1001.0 925.5 1004.0 950.8 1007.0 980.5 1009.8 1012.1 1019.2 1139.2 1021.5 1158.2 1022.4 1162.6 1022.9 1163.6 1023.4 1163.9 1023.9 1162.9 1024.7 1158.3 1026.2 1139.4 1032.4 1014.4 1036.4 950.8 1040.9 899.5 1043.4 877.8 1045.9 859.6 1049.1 840.1 1052.6 823.3 1056.6 808.1 1060.8 795.5 1065.5 784.6 1071.0 775.0 1077.0 767.1 1083.7 760.5 1090.7 755.4 1098.4 751.1 1107.1 747.6 1117.3 744.5 1129.0 742.0 1142.5 739.9 1158.1 738.2 1176.6 736.8 1222.6 734.9 1288.4 733.6 1385.0 732.9 1534.1 732.4"/>
<path d="M936.8 751.1L943.8 753.8 950.2 756.7 956.2 759.9 961.7 763.3 966.9 767.2 971.7 771.3 976.4 776.1 980.6 781.1 984.6 786.6 988.6 793.0 992.1 799.4 995.6 806.8 1001.8 822.8 1007.5 841.9 1012.2 861.9 1016.5 883.9 1020.5 909.2 1024.2 938.2 1027.4 968.4 1030.7 1004.3 1040.4 1133.7 1042.6 1153.2 1043.6 1157.9 1044.6 1159.7 1045.4 1158.2 1046.1 1153.1 1047.6 1133.6 1053.8 1009.3 1057.8 946.6 1062.0 898.6 1064.5 876.8 1067.0 858.5 1070.3 839.0 1073.7 822.2 1077.5 807.9 1081.7 795.1 1086.4 784.0 1091.7 774.7 1097.4 766.9 1104.1 760.1 1110.8 755.0 1118.6 750.6 1127.3 746.9 1137.0 743.9 1148.2 741.4 1161.4 739.2 1176.6 737.5 1194.2 736.1 1238.6 734.1 1301.3 732.8 1393.2 732.0 1534.1 731.5"/>
<path d="M936.8 747.9L946.3 750.0 954.7 752.4 962.4 755.0 969.7 757.9 976.4 761.3 982.6 765.0 988.3 769.1 993.6 773.5 998.5 778.5 1003.3 784.2 1007.8 790.5 1011.7 797.0 1015.5 804.2 1019.2 812.5 1022.4 820.8 1025.7 830.3 1031.4 850.9 1036.4 873.7 1040.9 899.4 1045.1 929.8 1048.8 962.8 1052.3 1000.1 1062.5 1133.0 1064.5 1149.6 1065.5 1154.2 1066.5 1155.9 1067.3 1154.4 1068.0 1149.4 1069.5 1130.0 1075.5 1012.1 1079.5 949.3 1083.7 901.1 1086.2 879.3 1088.7 861.0 1091.7 842.9 1095.2 825.8 1098.9 811.2 1103.1 798.2 1107.6 787.6 1112.8 778.0 1118.6 770.0 1124.8 763.5 1131.3 758.4 1138.7 754.0 1146.9 750.3 1156.4 747.2 1167.4 744.6 1179.8 742.4 1194.5 740.6 1211.7 739.2 1254.0 737.1 1314.0 735.7 1401.1 734.9 1534.1 734.4"/>
<path d="M936.8 743.1L948.8 744.8 959.7 746.8 969.7 749.0 978.6 751.5 986.8 754.3 994.3 757.5 1001.3 761.1 1007.8 765.1 1013.7 769.7 1019.2 774.7 1024.2 780.1 1028.9 786.2 1033.4 793.1 1037.6 800.7 1041.4 808.6 1045.1 817.9 1048.3 827.1 1051.6 837.8 1057.3 860.9 1062.3 886.7 1067.0 917.9 1071.2 953.2 1075.0 991.7 1085.7 1129.1 1087.7 1145.3 1088.7 1149.6 1089.7 1151.2 1090.2 1150.4 1090.9 1146.3 1092.4 1128.6 1098.6 1007.7 1102.6 945.7 1106.9 898.2 1111.6 860.2 1114.6 842.0 1118.1 824.8 1121.8 810.2 1125.8 797.9 1130.3 787.1 1135.0 778.2 1140.5 770.2 1146.7 763.4 1152.9 758.3 1160.1 753.7 1168.1 750.0 1177.3 746.8 1187.8 744.1 1200.0 741.9 1213.9 740.0 1230.3 738.5 1270.7 736.3 1327.7 734.9 1409.9 734.0 1534.1 733.5"/>
<path d="M936.8 739.6L965.4 742.7 977.4 744.6 988.3 746.7 998.3 749.2 1007.3 752.0 1015.5 755.2 1022.9 758.8 1029.9 762.9 1036.1 767.4 1041.9 772.4 1047.3 778.1 1052.3 784.4 1057.1 791.6 1061.5 799.6 1065.5 808.1 1069.3 817.5 1072.7 827.6 1076.0 838.5 1079.0 850.1 1084.7 877.3 1089.9 909.8 1094.4 945.6 1098.4 985.4 1109.3 1124.5 1111.3 1140.8 1112.3 1145.2 1113.3 1146.9 1114.1 1145.4 1114.8 1140.4 1116.3 1121.3 1122.3 1005.4 1126.3 943.7 1130.3 898.7 1132.5 878.9 1135.0 860.3 1138.0 841.8 1141.5 824.5 1144.9 810.6 1148.9 798.0 1153.4 786.9 1158.1 777.8 1163.4 770.0 1169.3 763.2 1175.3 758.1 1182.3 753.5 1190.0 749.7 1199.0 746.4 1208.9 743.6 1220.6 741.3 1234.1 739.4 1249.8 737.8 1267.4 736.6 1288.1 735.6 1341.9 734.1 1418.8 733.2 1534.1 732.6"/>
<path d="M936.8 736.9L971.4 739.5 986.1 741.1 999.0 743.0 1010.7 745.2 1021.2 747.7 1030.7 750.5 1039.4 753.7 1047.3 757.5 1054.6 761.7 1061.3 766.5 1067.3 771.8 1072.7 777.6 1078.0 784.4 1082.7 791.7 1087.2 800.0 1091.4 809.4 1095.2 819.1 1098.6 829.7 1102.1 842.1 1105.4 855.4 1108.3 869.7 1113.8 901.9 1118.6 938.1 1122.8 979.2 1134.2 1122.4 1136.2 1137.7 1137.2 1141.6 1138.0 1142.6 1138.5 1142.2 1138.7 1141.4 1139.5 1136.7 1141.0 1118.1 1147.2 998.8 1150.9 941.7 1154.9 897.0 1159.4 860.4 1162.4 841.7 1165.6 825.2 1169.1 811.0 1172.8 798.8 1177.1 787.8 1181.8 778.3 1187.0 770.1 1192.8 763.4 1198.7 757.9 1205.4 753.3 1212.9 749.4 1221.4 746.0 1231.1 743.2 1242.0 740.9 1254.7 738.9 1269.7 737.3 1286.4 736.0 1306.0 734.9 1356.3 733.3 1428.0 732.3 1534.1 731.7"/>
<path d="M936.8 738.4L978.1 740.6 995.3 742.0 1010.5 743.7 1023.9 745.5 1036.1 747.8 1047.1 750.3 1056.8 753.2 1065.8 756.5 1073.7 760.3 1081.2 764.7 1087.9 769.6 1094.2 775.2 1099.9 781.5 1105.1 788.6 1109.8 796.2 1114.3 804.9 1118.6 814.7 1122.3 824.9 1126.0 837.0 1129.5 850.1 1132.7 864.4 1135.7 879.7 1138.7 897.5 1143.7 933.8 1148.2 975.9 1151.4 1012.9 1157.6 1094.3 1159.9 1119.4 1161.9 1134.2 1162.9 1137.9 1163.6 1138.9 1164.4 1137.5 1165.1 1132.6 1166.6 1114.0 1172.6 1000.9 1176.3 943.8 1180.1 901.5 1184.5 864.3 1187.5 845.3 1190.5 829.8 1194.0 815.1 1197.7 802.6 1201.7 791.9 1206.2 782.5 1211.2 774.4 1216.9 767.2 1222.6 761.7 1229.1 757.0 1236.3 752.9 1244.3 749.6 1253.5 746.7 1264.0 744.3 1275.9 742.2 1289.9 740.5 1305.5 739.2 1324.0 738.0 1370.8 736.4 1437.0 735.3 1534.1 734.7"/>
<path d="M936.8 736.6L985.4 738.5 1022.7 741.1 1038.4 742.8 1052.1 744.8 1064.3 747.1 1075.2 749.7 1085.2 752.8 1094.2 756.3 1102.4 760.4 1109.8 765.0 1116.6 770.2 1122.8 776.2 1128.3 782.7 1133.5 790.1 1138.5 798.8 1143.0 808.2 1147.2 818.8 1150.9 829.9 1154.7 843.0 1158.1 857.5 1161.4 873.2 1164.4 890.0 1169.6 926.4 1174.3 969.3 1177.8 1008.4 1184.3 1092.6 1186.5 1117.5 1188.5 1132.0 1189.5 1135.6 1190.3 1136.5 1191.0 1134.9 1191.8 1129.9 1193.2 1111.1 1199.2 998.3 1202.7 944.9 1206.4 902.0 1210.9 864.3 1213.7 846.6 1216.7 830.7 1219.9 816.6 1223.6 803.5 1227.6 792.5 1231.8 783.2 1236.6 775.0 1241.8 768.1 1247.3 762.4 1253.5 757.4 1260.2 753.3 1267.9 749.7 1276.7 746.7 1286.4 744.2 1297.8 742.0 1310.8 740.2 1325.5 738.7 1342.4 737.5 1385.7 735.7 1446.2 734.6 1534.1 733.8"/>
<path d="M936.8 735.0L993.3 736.6 1035.9 739.0 1053.3 740.5 1068.8 742.3 1082.5 744.4 1094.7 746.9 1105.6 749.7 1115.6 753.0 1124.5 756.8 1132.5 761.2 1139.7 766.1 1146.4 771.8 1152.7 778.3 1158.1 785.4 1163.4 793.7 1168.1 802.8 1172.6 813.2 1176.8 825.0 1180.8 838.3 1184.3 852.0 1187.8 868.2 1191.0 885.9 1195.7 917.5 1200.0 953.3 1204.7 1004.1 1213.2 1111.4 1215.4 1129.9 1216.4 1134.3 1217.4 1136.0 1218.1 1134.7 1218.9 1129.9 1220.4 1111.6 1226.4 998.7 1230.1 941.7 1233.8 899.4 1237.8 865.8 1240.6 847.6 1243.5 831.4 1246.5 818.0 1250.0 805.3 1253.7 794.3 1258.0 784.4 1262.5 776.2 1267.4 769.0 1272.7 763.2 1278.4 758.2 1284.9 753.8 1292.1 750.1 1300.3 746.9 1309.5 744.2 1320.0 741.9 1332.2 740.0 1345.9 738.4 1361.6 737.1 1401.1 735.2 1455.9 733.9 1534.1 733.1"/>
<path d="M936.8 733.5L1001.5 735.0 1049.6 737.1 1069.3 738.5 1086.4 740.2 1101.4 742.1 1114.8 744.4 1127.0 747.1 1137.7 750.2 1147.2 753.7 1155.9 757.9 1163.6 762.5 1170.8 768.0 1177.3 774.1 1183.3 781.2 1188.8 789.1 1194.0 798.4 1198.7 808.7 1203.2 820.5 1207.4 833.9 1211.2 848.1 1214.7 863.7 1218.1 882.2 1222.9 913.0 1227.4 950.2 1232.3 1003.3 1240.8 1111.2 1243.0 1130.0 1244.3 1135.3 1244.8 1136.3 1245.3 1136.5 1245.8 1135.4 1246.5 1130.9 1248.0 1112.9 1254.0 999.8 1257.5 945.7 1261.0 904.7 1265.0 869.5 1267.7 850.5 1270.4 834.9 1273.4 820.7 1276.7 808.2 1280.1 797.1 1284.1 787.0 1288.4 778.5 1293.1 771.0 1298.1 764.8 1303.5 759.4 1309.5 754.9 1316.2 750.9 1324.0 747.4 1332.4 744.6 1342.1 742.1 1353.3 740.0 1365.8 738.3 1380.0 736.9 1415.8 734.7 1464.9 733.3 1534.1 732.3"/>
<path d="M936.8 736.0L1010.0 737.3 1063.8 739.2 1085.4 740.5 1104.4 742.0 1120.8 743.7 1135.5 745.8 1148.7 748.3 1160.4 751.3 1170.8 754.7 1180.1 758.6 1188.5 763.1 1196.0 768.2 1203.0 774.2 1209.2 780.9 1215.2 788.9 1220.6 798.0 1225.6 808.2 1230.3 820.0 1234.6 832.7 1238.6 847.1 1242.3 863.2 1245.8 881.1 1251.0 914.4 1255.7 953.6 1260.5 1003.8 1269.2 1114.4 1271.4 1132.8 1272.4 1137.2 1273.4 1138.9 1274.2 1137.5 1274.9 1132.6 1276.4 1114.0 1282.1 1005.3 1285.6 950.5 1289.1 909.0 1292.8 875.3 1295.3 857.5 1298.1 841.1 1301.1 826.4 1304.0 814.2 1307.3 803.3 1311.0 793.1 1315.0 784.4 1319.5 776.6 1324.2 770.1 1329.2 764.6 1334.9 759.7 1341.1 755.6 1348.1 752.0 1356.1 748.9 1365.0 746.2 1375.0 744.0 1386.2 742.2 1399.2 740.6 1431.0 738.2 1474.1 736.5 1534.1 735.5"/>
<path d="M936.8 734.7L1018.7 735.9 1078.2 737.7 1102.1 738.9 1122.8 740.3 1140.7 741.9 1156.6 743.9 1170.8 746.3 1183.3 749.0 1194.5 752.3 1204.5 756.1 1213.4 760.5 1221.4 765.5 1228.6 771.2 1235.3 778.0 1241.5 785.8 1247.3 794.7 1252.5 804.8 1257.5 816.7 1262.0 829.7 1266.2 844.6 1270.2 861.5 1273.7 879.2 1279.1 913.9 1283.9 952.9 1288.9 1006.2 1297.6 1118.2 1299.8 1136.9 1300.8 1141.4 1301.8 1143.1 1302.5 1141.8 1303.3 1136.9 1304.8 1118.2 1310.5 1008.1 1314.0 952.6 1317.2 913.1 1320.7 880.4 1323.2 861.6 1325.7 845.9 1328.4 831.3 1331.2 819.2 1334.4 807.3 1337.9 796.8 1341.6 787.8 1345.6 779.9 1349.9 773.2 1354.6 767.2 1359.8 762.0 1365.5 757.5 1372.0 753.5 1379.0 750.2 1387.0 747.3 1396.2 744.8 1406.1 742.7 1417.6 740.9 1430.8 739.4 1445.7 738.1 1483.1 736.2 1534.1 735.0"/>
<path d="M936.8 733.5L1028.2 734.6 1093.7 736.3 1119.8 737.4 1142.2 738.7 1161.6 740.2 1178.8 742.1 1194.0 744.4 1207.4 747.1 1219.4 750.2 1229.8 753.8 1239.3 758.1 1247.8 762.9 1255.5 768.6 1262.5 775.2 1269.2 783.1 1275.2 792.0 1280.6 802.2 1285.9 814.3 1290.6 827.7 1294.8 842.3 1298.8 858.8 1302.5 877.4 1305.5 894.9 1308.3 913.5 1313.3 954.8 1318.2 1008.7 1326.9 1122.4 1329.2 1141.4 1330.2 1146.1 1331.2 1147.8 1331.7 1147.4 1331.9 1146.6 1332.7 1141.7 1334.2 1122.9 1339.9 1011.4 1343.1 958.5 1346.1 920.4 1349.4 888.0 1354.1 852.7 1356.6 838.2 1359.3 824.9 1362.3 812.7 1365.3 802.6 1368.8 792.9 1372.5 784.4 1376.5 777.1 1380.7 770.8 1385.5 765.1 1390.7 760.2 1396.4 755.9 1402.9 752.1 1409.9 748.9 1417.8 746.1 1426.5 743.7 1436.5 741.7 1447.7 740.0 1460.7 738.5 1492.0 736.2 1534.1 734.7"/>
<path d="M936.8 732.4L1037.6 733.4 1109.3 734.9 1161.9 737.2 1183.0 738.7 1201.2 740.4 1217.6 742.6 1231.8 745.2 1244.5 748.2 1255.7 751.8 1265.7 755.9 1274.7 760.7 1282.6 766.2 1289.9 772.5 1296.8 780.3 1303.3 789.5 1309.0 799.7 1314.3 811.4 1319.2 825.0 1323.7 840.1 1327.9 857.5 1331.7 875.9 1334.7 893.2 1337.4 911.6 1342.6 954.8 1347.9 1011.9 1356.6 1127.0 1358.8 1146.3 1359.8 1150.8 1360.8 1152.6 1361.3 1152.0 1362.1 1148.2 1363.3 1134.4 1371.5 979.2 1374.8 933.5 1378.2 895.8 1382.5 861.5 1385.0 845.6 1387.5 832.1 1390.2 819.7 1392.9 809.2 1396.2 798.8 1399.4 790.3 1402.9 782.6 1406.9 775.5 1411.1 769.4 1415.6 764.1 1420.6 759.4 1426.3 755.1 1432.5 751.4 1439.2 748.3 1446.7 745.6 1455.2 743.2 1464.6 741.2 1475.1 739.4 1500.7 736.7 1534.1 734.8"/>
<path d="M936.8 735.1L1047.8 736.0 1126.0 737.4 1182.8 739.5 1205.4 740.9 1224.9 742.6 1242.0 744.7 1257.2 747.1 1270.7 750.0 1282.4 753.4 1292.8 757.4 1302.3 762.1 1310.8 767.6 1318.2 773.7 1325.5 781.3 1331.9 790.0 1337.9 800.1 1343.4 811.7 1348.4 824.8 1353.1 840.1 1357.3 856.8 1361.3 875.8 1364.3 892.6 1367.3 912.2 1372.8 957.0 1378.0 1013.9 1387.0 1132.5 1389.2 1151.4 1390.2 1155.8 1390.7 1156.9 1391.2 1157.3 1391.7 1156.5 1392.4 1152.3 1393.9 1134.2 1401.4 990.1 1404.4 945.8 1407.6 908.4 1411.6 873.4 1415.8 845.6 1420.8 821.5 1423.6 811.2 1426.3 802.5 1429.5 793.8 1432.8 786.6 1436.3 780.1 1440.2 773.9 1444.5 768.6 1449.2 763.8 1454.2 759.7 1459.9 755.9 1466.1 752.7 1472.9 749.9 1480.3 747.5 1488.8 745.3 1498.2 743.4 1508.7 741.9 1534.1 739.3"/>
<path d="M936.8 734.0L1058.3 734.8 1143.0 736.1 1204.0 738.2 1228.1 739.5 1248.8 741.1 1267.2 743.1 1283.4 745.5 1297.3 748.3 1309.8 751.6 1320.7 755.5 1330.4 760.1 1339.1 765.3 1347.1 771.6 1354.8 779.4 1361.6 788.1 1367.8 798.3 1373.3 809.7 1378.5 823.1 1383.2 838.2 1387.7 855.6 1391.7 874.5 1394.9 892.7 1397.9 912.4 1403.4 957.4 1408.6 1014.5 1417.8 1137.7 1420.1 1156.5 1421.1 1160.7 1421.6 1161.8 1422.1 1162.0 1422.6 1161.0 1423.3 1156.3 1424.8 1137.5 1432.0 995.6 1434.8 953.5 1437.5 919.7 1440.7 888.0 1444.5 859.6 1448.7 835.1 1453.2 815.6 1455.9 806.1 1458.7 798.0 1461.6 790.5 1464.9 783.7 1468.4 777.5 1472.1 772.1 1476.1 767.2 1480.3 763.0 1485.1 759.1 1490.3 755.5 1495.8 752.5 1502.0 749.8 1509.0 747.3 1516.4 745.3 1524.9 743.4 1534.1 741.8"/>
<path d="M936.8 732.9L1069.0 733.7 1160.1 734.9 1225.1 736.9 1250.8 738.1 1272.7 739.7 1292.1 741.6 1309.0 743.9 1324.0 746.6 1336.9 749.9 1348.4 753.7 1358.6 758.1 1367.5 763.3 1375.7 769.3 1383.7 777.0 1390.9 785.9 1397.4 796.3 1403.1 807.8 1408.4 821.0 1413.3 836.6 1417.8 853.8 1422.1 873.7 1425.3 891.9 1428.3 911.5 1431.3 934.3 1434.0 958.7 1439.5 1019.4 1448.5 1141.2 1450.7 1160.7 1451.7 1165.2 1452.2 1166.4 1452.7 1166.8 1453.2 1166.0 1453.9 1161.6 1455.4 1143.1 1462.1 1008.2 1464.4 971.0 1466.9 936.8 1469.6 906.1 1472.6 879.2 1475.8 855.9 1479.3 835.9 1483.6 817.0 1488.3 800.9 1493.5 787.7 1496.5 781.7 1499.5 776.5 1502.7 771.7 1506.2 767.4 1509.9 763.4 1514.2 759.7 1518.7 756.4 1523.4 753.5 1528.6 750.8 1534.1 748.5"/>
<path d="M936.8 731.9L1080.0 732.6 1177.8 733.8 1247.3 735.6 1274.4 736.8 1297.6 738.3 1318.2 740.1 1335.9 742.3 1351.3 745.0 1365.0 748.2 1377.0 751.9 1387.7 756.3 1397.2 761.4 1405.6 767.4 1413.8 775.0 1421.1 783.6 1427.8 793.9 1433.8 805.6 1439.2 819.1 1444.2 834.4 1448.9 852.3 1453.2 872.0 1456.4 890.0 1459.7 911.1 1462.6 933.9 1465.4 958.2 1470.9 1019.0 1480.1 1145.4 1482.3 1165.0 1483.3 1169.5 1483.8 1170.6 1484.3 1171.0 1485.1 1169.1 1485.8 1163.4 1487.3 1142.6 1493.0 1024.3 1496.8 961.5 1500.5 914.9 1504.5 877.9 1507.2 857.9 1510.2 840.0 1513.2 825.3 1516.7 811.3 1520.4 799.3 1524.6 788.5 1529.1 779.4 1534.1 771.6"/>
<path d="M936.8 734.6L1091.7 735.3 1196.2 736.4 1269.9 738.1 1298.6 739.3 1323.0 740.7 1344.6 742.4 1363.3 744.5 1379.5 747.1 1393.7 750.1 1406.1 753.7 1417.3 758.1 1427.0 763.0 1435.8 768.8 1444.2 776.2 1451.9 785.0 1458.7 794.9 1464.9 806.6 1470.4 819.6 1475.6 835.2 1480.3 852.7 1484.8 873.1 1488.3 892.2 1491.5 913.2 1494.5 935.9 1497.5 962.5 1503.0 1023.7 1511.9 1147.2 1514.2 1167.5 1515.2 1172.4 1516.2 1174.3 1516.7 1173.9 1517.4 1170.0 1518.7 1155.9 1527.1 989.7 1530.4 942.7 1534.1 901.6"/>
<path d="M936.8 733.6L1089.7 734.2 1195.7 735.0 1272.2 736.3 1328.4 738.2 1351.6 739.5 1371.5 741.0 1389.2 742.9 1404.6 745.0 1418.3 747.6 1430.5 750.5 1441.2 754.0 1450.9 757.9 1460.4 763.0 1468.9 768.9 1476.6 775.7 1483.6 783.7 1489.8 792.6 1495.5 803.0 1500.7 814.6 1505.7 828.4 1510.2 843.5 1514.4 860.9 1518.4 880.6 1521.9 901.3 1525.1 924.0 1528.4 950.8 1531.4 980.1 1534.1 1011.4"/>
</g>
<rect x="938.8" y="723.0" width="593.3" height="472.6" fill="none" stroke="#505050" stroke-width="3"/>
<path d="M1020.2 1195.6v-9 M1020.2 723.0v9M1225.5 1195.6v-9 M1225.5 723.0v9M1430.8 1195.6v-9 M1430.8 723.0v9M1122.9 1195.6v-5 M1122.9 723.0v5M1328.2 1195.6v-5 M1328.2 723.0v5M938.8 959.3h9 M1532.1 959.3h-9M938.8 1077.4h5 M1532.1 1077.4h-5M938.8 841.1h5 M1532.1 841.1h-5" stroke="#505050" stroke-width="2.6" fill="none"/>
<text x="796.0" y="669.7" text-anchor="start" style="font-family:'Liberation Serif','Times New Roman',serif;font-weight:bold;font-size:60.0px" fill="#000">(e)</text>
<text x="928.0" y="732.2" text-anchor="end" style="font-family:'Liberation Sans',Arial,sans-serif;font-weight:bold;font-size:32.0px" fill="#1a1a1a">1.0</text>
<text x="928.0" y="968.5" text-anchor="end" style="font-family:'Liberation Sans',Arial,sans-serif;font-weight:bold;font-size:32.0px" fill="#1a1a1a">0.5</text>
<text x="928.0" y="1204.8" text-anchor="end" style="font-family:'Liberation Sans',Arial,sans-serif;font-weight:bold;font-size:32.0px" fill="#1a1a1a">0.0</text>
<text x="1020.2" y="1230.6" text-anchor="middle" style="font-family:'Liberation Sans',Arial,sans-serif;font-weight:bold;font-size:33.0px" fill="#1a1a1a">0.52</text>
<text x="1225.5" y="1230.6" text-anchor="middle" style="font-family:'Liberation Sans',Arial,sans-serif;font-weight:bold;font-size:33.0px" fill="#1a1a1a">0.53</text>
<text x="1430.8" y="1230.6" text-anchor="middle" style="font-family:'Liberation Sans',Arial,sans-serif;font-weight:bold;font-size:33.0px" fill="#1a1a1a">0.54</text>
<text x="1234.7" y="1289.7" text-anchor="middle" style="font-family:'Liberation Sans',Arial,sans-serif;font-size:41.2px" fill="#1a1a1a">Frequency(THz)</text>
<text x="854.4" y="948.1" text-anchor="middle" style="font-family:'Liberation Sans',Arial,sans-serif;font-size:40.8px" fill="#1a1a1a" transform="rotate(-90 854.4 948.1)">Transmission</text>
<g clip-path="url(#cf)" fill="none" stroke="#6e6e6e" stroke-width="2.8" stroke-opacity="0.72" stroke-linejoin="round">
<path d="M1705.5 1036.0L1708.0 1025.6 1709.2 1022.2 1710.2 1020.4 1711.5 1019.4 1712.5 1019.8 1713.4 1021.1 1714.7 1024.0 1716.4 1030.2 1718.2 1038.3 1727.4 1091.5 1732.6 1116.6 1735.6 1128.0 1738.8 1138.3 1742.3 1147.3 1746.0 1155.0 1749.5 1160.8 1753.4 1166.1 1757.7 1170.6 1762.1 1174.4 1767.4 1177.9 1773.1 1180.9 1779.3 1183.4 1786.5 1185.6 1794.4 1187.5 1803.6 1189.1 1825.7 1191.6 1855.1 1193.3 1894.6 1194.4 1947.7 1195.2 2023.3 1195.7 2301.5 1196.1"/>
<path d="M1705.5 1129.2L1709.5 1113.9 1713.2 1096.1 1722.9 1038.1 1725.4 1025.0 1728.1 1015.2 1729.3 1012.9 1730.6 1012.1 1731.8 1012.8 1733.3 1015.8 1736.1 1026.1 1738.8 1040.9 1746.5 1087.9 1751.5 1112.8 1756.2 1130.8 1761.1 1144.9 1764.6 1152.5 1768.6 1159.5 1772.8 1165.3 1777.3 1170.2 1782.3 1174.4 1788.0 1178.1 1794.4 1181.3 1801.6 1184.0 1809.3 1186.2 1818.0 1188.0 1828.0 1189.6 1839.4 1190.9 1867.5 1192.8 1905.7 1194.2 1957.2 1195.0 2030.5 1195.6 2301.5 1196.1"/>
<path d="M1705.5 1166.2L1711.2 1158.5 1716.4 1148.8 1720.9 1137.6 1725.1 1123.9 1728.9 1108.5 1732.3 1090.8 1741.5 1033.4 1744.0 1019.5 1746.7 1008.7 1748.2 1005.6 1749.5 1004.7 1750.7 1005.5 1752.2 1008.5 1754.9 1019.2 1757.7 1034.6 1765.4 1083.5 1770.6 1110.5 1775.1 1128.1 1780.0 1142.8 1783.5 1150.7 1787.2 1157.6 1791.5 1163.7 1795.9 1168.8 1800.9 1173.3 1806.6 1177.2 1812.8 1180.5 1819.8 1183.3 1827.2 1185.5 1835.7 1187.4 1845.4 1189.1 1856.5 1190.5 1884.1 1192.6 1921.4 1194.0 1971.3 1194.9 2041.9 1195.5 2301.5 1196.1"/>
<path d="M1705.5 1179.8L1711.5 1176.5 1716.7 1172.8 1721.4 1168.6 1725.9 1163.5 1729.8 1157.8 1733.3 1151.7 1736.6 1144.7 1739.8 1136.2 1742.5 1127.6 1745.0 1118.3 1750.0 1095.3 1753.9 1072.0 1761.4 1022.4 1763.9 1008.6 1766.4 999.2 1767.6 996.8 1768.9 996.0 1770.1 996.9 1771.6 1000.2 1774.3 1011.6 1776.8 1026.2 1784.8 1078.8 1789.7 1105.8 1794.2 1124.4 1799.2 1139.9 1802.6 1148.3 1806.4 1155.5 1810.3 1161.7 1814.8 1167.1 1819.8 1171.9 1825.2 1175.9 1831.2 1179.3 1838.2 1182.3 1845.6 1184.8 1853.8 1186.8 1863.3 1188.5 1874.2 1190.0 1901.0 1192.3 1937.0 1193.8 1985.2 1194.8 2053.3 1195.4 2301.5 1196.1"/>
<path d="M1705.5 1186.0L1714.9 1183.4 1723.1 1180.3 1730.3 1176.5 1736.8 1171.9 1742.5 1166.4 1747.5 1160.1 1752.0 1152.8 1756.2 1143.9 1759.2 1136.1 1762.1 1126.7 1764.9 1116.4 1767.4 1105.5 1770.1 1091.5 1773.1 1073.8 1781.0 1018.7 1783.5 1003.3 1785.0 995.9 1786.5 990.5 1788.0 987.3 1789.2 986.6 1790.2 987.3 1791.5 989.8 1793.9 999.4 1796.9 1017.0 1804.6 1070.6 1808.4 1092.9 1813.6 1117.4 1816.3 1127.6 1819.0 1136.1 1822.3 1144.5 1826.0 1152.4 1830.0 1159.0 1834.4 1165.0 1839.2 1169.9 1844.6 1174.3 1850.6 1178.0 1857.5 1181.3 1864.7 1183.9 1872.9 1186.1 1882.1 1187.9 1892.6 1189.5 1918.4 1191.9 1953.4 1193.6 1999.9 1194.6 2065.2 1195.3 2301.5 1196.0"/>
<path d="M1705.5 1189.3L1719.2 1187.1 1730.8 1184.3 1740.5 1180.9 1749.0 1176.7 1756.2 1171.7 1762.6 1165.5 1768.4 1158.0 1773.3 1149.2 1777.3 1140.0 1780.8 1130.0 1784.0 1118.5 1787.2 1104.5 1790.2 1089.0 1793.2 1070.8 1801.6 1009.9 1804.1 994.0 1806.9 981.7 1808.4 978.2 1809.6 977.2 1810.8 978.2 1812.1 980.9 1814.6 991.2 1817.5 1009.8 1825.0 1064.1 1828.7 1087.5 1833.9 1113.4 1836.7 1124.0 1839.4 1133.0 1842.6 1141.9 1846.4 1150.1 1850.3 1157.2 1854.6 1163.1 1859.3 1168.4 1864.5 1172.9 1870.5 1176.9 1876.9 1180.2 1883.9 1182.9 1891.8 1185.2 1900.8 1187.2 1911.2 1188.9 1922.9 1190.3 1936.3 1191.5 1970.1 1193.3 2014.8 1194.5 2077.4 1195.2 2301.5 1196.0"/>
<path d="M1705.5 1191.3L1724.4 1189.5 1739.8 1187.1 1752.5 1184.1 1763.1 1180.3 1767.9 1178.0 1772.3 1175.4 1776.3 1172.6 1780.0 1169.5 1783.5 1166.1 1786.7 1162.3 1792.5 1153.7 1796.9 1144.8 1801.1 1133.9 1805.1 1120.6 1808.6 1106.1 1812.1 1088.1 1815.3 1068.1 1824.0 1003.4 1826.5 986.8 1829.2 973.9 1830.7 970.2 1832.0 969.2 1833.2 970.1 1834.4 972.9 1836.9 983.5 1839.9 1002.7 1847.4 1058.9 1851.1 1083.3 1856.1 1109.0 1858.8 1120.3 1861.5 1129.8 1864.7 1139.1 1868.2 1147.3 1872.2 1154.8 1876.4 1161.2 1881.1 1166.8 1886.1 1171.4 1891.8 1175.5 1898.3 1179.1 1905.2 1182.0 1912.9 1184.5 1921.6 1186.6 1931.6 1188.3 1943.0 1189.9 1955.9 1191.1 1988.2 1193.0 2031.0 1194.3 2090.6 1195.1 2301.5 1195.9"/>
<path d="M1705.5 1192.6L1729.8 1191.1 1749.5 1189.0 1765.4 1186.3 1778.3 1182.8 1784.0 1180.7 1789.2 1178.4 1793.9 1175.7 1798.4 1172.7 1802.4 1169.4 1806.1 1165.7 1809.6 1161.6 1812.8 1157.0 1818.0 1147.6 1822.8 1136.3 1827.0 1123.0 1831.0 1106.9 1834.7 1087.8 1838.2 1066.0 1847.1 997.6 1849.6 980.6 1852.3 967.4 1853.8 963.6 1855.1 962.5 1856.3 963.4 1857.5 966.3 1860.0 977.2 1863.0 997.0 1870.5 1054.9 1874.2 1079.9 1879.2 1106.5 1881.6 1117.1 1884.4 1127.0 1887.6 1136.8 1891.1 1145.3 1894.8 1152.8 1898.8 1159.1 1903.3 1164.8 1908.2 1169.8 1913.9 1174.2 1920.1 1177.9 1926.9 1181.0 1934.3 1183.6 1942.8 1185.8 1952.2 1187.7 1963.1 1189.3 1975.6 1190.6 2006.6 1192.7 2047.3 1194.1 2103.7 1195.0 2183.7 1195.5 2301.5 1195.9"/>
<path d="M1705.5 1193.5L1736.1 1192.1 1759.9 1190.3 1778.8 1187.9 1794.2 1184.7 1800.9 1182.8 1806.9 1180.6 1812.3 1178.1 1817.3 1175.2 1821.8 1172.1 1826.0 1168.6 1830.0 1164.4 1833.4 1160.1 1836.4 1155.7 1839.4 1150.5 1842.1 1144.9 1844.9 1138.3 1849.6 1124.0 1853.8 1107.1 1857.5 1088.1 1861.3 1064.7 1870.7 991.0 1873.2 973.8 1875.9 960.8 1877.2 957.6 1878.4 956.5 1878.9 956.6 1879.7 957.3 1880.9 960.2 1883.4 971.3 1886.4 991.5 1894.1 1052.8 1897.5 1076.7 1902.5 1104.0 1905.0 1114.9 1907.7 1125.1 1911.0 1135.1 1914.2 1143.3 1917.9 1151.1 1921.9 1157.7 1926.4 1163.7 1931.1 1168.6 1936.3 1172.9 1942.3 1176.8 1948.7 1180.0 1955.9 1182.7 1964.1 1185.1 1973.3 1187.1 1983.7 1188.7 1995.7 1190.2 2025.2 1192.4 2064.0 1193.8 2117.2 1194.8 2192.2 1195.4 2301.5 1195.8"/>
<path d="M1705.5 1194.1L1742.8 1192.9 1771.3 1191.3 1793.7 1189.2 1811.6 1186.2 1819.3 1184.4 1826.0 1182.4 1832.2 1180.0 1837.9 1177.2 1842.9 1174.2 1847.6 1170.7 1851.8 1166.9 1855.8 1162.5 1859.3 1157.8 1862.5 1152.5 1865.5 1146.8 1868.2 1140.6 1873.4 1125.5 1877.9 1108.1 1881.9 1088.0 1885.6 1064.6 1889.1 1038.7 1895.3 987.8 1898.0 968.6 1899.5 960.6 1900.8 955.7 1902.0 952.7 1903.3 951.8 1904.5 952.9 1905.7 956.1 1908.2 967.8 1910.7 984.8 1917.9 1043.4 1921.9 1072.0 1926.6 1099.2 1929.1 1110.7 1931.8 1121.5 1934.8 1131.4 1938.0 1140.3 1941.5 1148.1 1945.5 1155.2 1949.7 1161.3 1954.4 1166.8 1959.7 1171.4 1965.4 1175.4 1971.6 1178.8 1978.5 1181.7 1986.2 1184.2 1995.2 1186.3 2005.1 1188.1 2016.5 1189.6 2044.4 1192.0 2080.9 1193.6 2130.8 1194.6 2200.6 1195.3 2301.5 1195.8"/>
<path d="M1705.5 1194.5L1750.0 1193.5 1783.5 1192.1 1809.3 1190.2 1829.7 1187.5 1838.4 1185.8 1846.1 1183.8 1853.1 1181.6 1859.3 1179.0 1865.0 1176.0 1870.0 1172.8 1874.7 1169.0 1878.9 1164.7 1882.6 1160.2 1886.1 1155.1 1889.3 1149.3 1892.3 1143.0 1895.1 1136.2 1897.8 1128.2 1902.8 1109.5 1907.0 1088.6 1911.0 1063.5 1914.4 1037.4 1920.9 983.6 1923.4 965.8 1926.1 952.3 1927.4 949.0 1928.6 947.8 1929.1 947.9 1929.8 948.6 1931.1 951.6 1932.3 956.5 1933.8 964.5 1936.8 985.9 1944.0 1045.5 1947.5 1070.6 1952.2 1098.1 1957.2 1119.7 1960.1 1129.8 1963.4 1138.9 1966.9 1146.9 1970.6 1153.9 1974.6 1159.9 1979.0 1165.3 1984.0 1170.1 1989.5 1174.2 1995.4 1177.7 2002.1 1180.7 2009.6 1183.3 2017.8 1185.5 2027.2 1187.4 2038.2 1189.0 2064.5 1191.5 2098.8 1193.3 2145.2 1194.4 2209.6 1195.2 2301.5 1195.7"/>
<path d="M1705.5 1194.9L1758.2 1194.0 1797.2 1192.8 1826.7 1191.0 1849.6 1188.5 1859.3 1186.9 1867.7 1185.1 1875.4 1183.0 1882.4 1180.5 1888.6 1177.7 1894.1 1174.6 1899.0 1171.0 1903.8 1166.8 1908.0 1162.1 1911.7 1157.0 1915.2 1151.2 1918.4 1144.8 1921.4 1137.6 1924.1 1129.8 1926.9 1120.7 1929.3 1110.8 1933.6 1090.3 1937.8 1064.0 1941.5 1035.8 1948.2 979.5 1950.7 961.9 1952.2 953.8 1953.4 948.9 1954.7 945.9 1955.4 945.2 1955.9 945.1 1957.2 946.4 1958.4 949.7 1960.9 961.9 1963.4 979.5 1970.3 1037.8 1974.3 1067.4 1978.8 1094.3 1983.7 1116.9 1986.7 1127.5 1989.7 1136.3 1992.9 1144.2 1996.7 1151.7 2000.6 1158.1 2004.9 1163.6 2009.6 1168.4 2014.8 1172.7 2020.5 1176.4 2026.7 1179.5 2033.9 1182.3 2041.9 1184.6 2050.8 1186.7 2061.0 1188.4 2072.4 1189.8 2085.6 1191.1 2117.4 1192.9 2160.1 1194.2 2218.8 1195.0 2301.5 1195.6"/>
<path d="M1705.5 1195.1L1766.1 1194.4 1810.3 1193.3 1843.6 1191.7 1869.0 1189.5 1879.7 1188.0 1889.1 1186.3 1897.5 1184.4 1905.0 1182.1 1911.7 1179.4 1917.7 1176.4 1923.1 1173.0 1928.1 1169.0 1932.6 1164.5 1936.5 1159.6 1940.3 1154.0 1943.8 1147.5 1947.0 1140.3 1950.0 1132.3 1952.7 1123.6 1955.4 1113.2 1959.9 1092.0 1964.1 1066.2 1967.8 1038.4 1974.8 980.3 1977.3 962.6 1978.8 954.5 1980.0 949.6 1981.3 946.6 1982.0 945.8 1982.5 945.7 1983.7 947.0 1985.0 950.3 1987.5 962.4 1990.0 980.0 1996.9 1038.1 2000.9 1067.6 2005.4 1094.5 2010.1 1116.1 2012.8 1126.0 2015.8 1135.0 2019.0 1143.2 2022.5 1150.4 2026.2 1156.7 2030.2 1162.1 2034.7 1167.1 2039.6 1171.5 2045.1 1175.3 2051.1 1178.5 2057.8 1181.4 2065.2 1183.8 2073.7 1185.9 2083.1 1187.7 2093.8 1189.2 2106.0 1190.5 2135.3 1192.5 2174.3 1193.9 2227.2 1194.8 2301.5 1195.4"/>
<path d="M1705.5 1195.4L1774.8 1194.7 1824.7 1193.7 1861.8 1192.3 1889.8 1190.3 1901.5 1188.9 1912.0 1187.4 1921.1 1185.5 1929.1 1183.4 1936.3 1180.9 1942.8 1178.0 1948.5 1174.7 1953.7 1170.9 1958.4 1166.6 1962.6 1161.8 1966.6 1156.3 1970.3 1149.8 1973.6 1143.0 1976.8 1134.8 1979.8 1125.6 1982.5 1115.6 1987.2 1093.7 1991.5 1068.2 1995.4 1038.7 2002.1 982.8 2004.6 965.1 2006.1 956.9 2007.4 951.8 2008.6 948.8 2009.8 947.8 2011.1 948.9 2012.3 952.1 2014.8 964.0 2017.3 981.4 2024.2 1039.2 2028.0 1067.0 2032.2 1092.7 2036.9 1114.9 2039.6 1125.0 2042.4 1133.6 2045.6 1142.0 2048.8 1149.0 2052.3 1155.2 2056.3 1161.0 2060.5 1165.9 2065.0 1170.2 2070.0 1173.9 2075.7 1177.4 2081.9 1180.3 2088.8 1182.8 2096.8 1185.1 2105.5 1187.0 2115.4 1188.6 2126.6 1190.0 2153.4 1192.1 2188.7 1193.6 2236.2 1194.6 2301.5 1195.3"/>
<path d="M1705.5 1195.5L1784.8 1195.0 1840.9 1194.1 1881.9 1192.8 1912.4 1191.0 1925.1 1189.8 1936.3 1188.3 1946.0 1186.6 1954.7 1184.6 1962.4 1182.2 1969.1 1179.6 1975.3 1176.4 1980.8 1172.8 1985.7 1168.6 1990.5 1163.7 1994.7 1158.1 1998.4 1151.9 2001.9 1144.9 2005.1 1137.0 2008.1 1128.1 2010.8 1118.3 2015.5 1097.1 2020.0 1070.4 2024.0 1041.1 2031.0 983.3 2033.4 966.0 2035.9 954.3 2037.2 951.3 2037.9 950.5 2038.4 950.4 2039.6 951.7 2040.9 955.0 2043.4 967.3 2045.9 984.9 2052.6 1040.8 2056.0 1066.8 2060.3 1092.9 2064.7 1114.2 2067.2 1123.7 2070.0 1132.6 2072.9 1140.7 2075.9 1147.5 2079.1 1153.6 2082.9 1159.5 2086.9 1164.5 2091.1 1168.8 2095.8 1172.8 2101.0 1176.2 2106.7 1179.2 2113.2 1181.9 2120.4 1184.2 2128.3 1186.1 2137.3 1187.8 2147.5 1189.3 2171.6 1191.6 2203.1 1193.2 2244.9 1194.3 2301.5 1195.1"/>
<path d="M1705.5 1195.7L1794.2 1195.2 1856.1 1194.5 1901.0 1193.3 1934.1 1191.7 1959.4 1189.2 1969.8 1187.7 1979.0 1185.8 1987.2 1183.6 1994.4 1181.1 2000.9 1178.1 2006.6 1174.7 2012.1 1170.6 2016.8 1166.0 2021.0 1160.9 2025.0 1154.9 2028.7 1147.8 2031.9 1140.3 2034.9 1131.9 2037.9 1121.8 2042.9 1100.1 2047.3 1074.0 2051.3 1045.1 2058.0 990.0 2060.5 972.7 2063.0 960.8 2064.2 957.6 2065.5 956.5 2066.7 957.5 2068.0 960.6 2070.7 974.0 2073.2 991.7 2079.4 1042.9 2082.9 1068.7 2086.9 1093.3 2091.1 1113.8 2096.0 1131.8 2098.8 1139.6 2101.8 1146.7 2105.0 1153.1 2108.2 1158.4 2111.7 1163.1 2115.7 1167.6 2120.1 1171.6 2124.9 1175.0 2130.1 1178.1 2136.0 1180.9 2142.5 1183.2 2150.0 1185.3 2158.2 1187.1 2167.1 1188.6 2188.7 1191.0 2216.3 1192.8 2252.8 1194.0 2301.5 1194.9"/>
<path d="M1705.5 1195.8L1804.4 1195.4 1872.4 1194.7 1921.1 1193.7 1956.7 1192.2 1984.0 1190.0 1994.9 1188.6 2004.6 1186.9 2013.1 1184.9 2020.8 1182.5 2027.5 1179.8 2033.4 1176.7 2038.9 1173.0 2043.9 1168.7 2048.3 1163.7 2052.6 1157.9 2056.3 1151.4 2059.8 1143.9 2063.0 1135.3 2066.0 1125.7 2071.0 1104.9 2075.7 1078.3 2079.6 1050.0 2086.4 996.1 2088.8 979.1 2091.3 967.7 2092.6 964.7 2093.3 963.9 2093.8 963.8 2095.0 965.1 2096.3 968.4 2098.8 980.4 2101.3 997.7 2107.5 1047.8 2110.7 1071.4 2114.4 1094.4 2118.4 1113.9 2123.1 1131.4 2125.6 1138.7 2128.3 1145.5 2131.3 1151.8 2134.3 1157.0 2137.5 1161.8 2141.0 1166.0 2145.0 1170.0 2149.5 1173.7 2154.2 1176.8 2159.4 1179.6 2165.4 1182.1 2171.8 1184.2 2179.0 1186.1 2187.0 1187.7 2205.9 1190.3 2229.7 1192.2 2260.8 1193.6 2301.5 1194.5"/>
<path d="M1705.5 1195.9L1889.1 1195.0 1941.8 1194.1 1980.0 1192.7 2009.1 1190.7 2020.8 1189.4 2031.0 1187.9 2039.9 1186.0 2047.8 1183.8 2055.1 1181.2 2061.3 1178.3 2067.0 1174.8 2072.2 1170.6 2076.9 1165.8 2081.1 1160.4 2085.1 1153.9 2088.6 1146.8 2091.8 1138.7 2094.8 1129.6 2097.5 1119.5 2100.0 1108.7 2104.7 1082.8 2108.7 1055.3 2115.7 1000.3 2118.2 983.9 2120.6 973.0 2121.9 970.4 2122.9 969.9 2124.1 971.1 2125.4 974.3 2127.8 986.2 2130.3 1003.2 2139.5 1074.1 2143.0 1095.5 2146.7 1113.9 2150.9 1130.1 2155.7 1143.6 2160.9 1154.6 2163.9 1159.5 2167.1 1163.9 2170.6 1167.9 2174.5 1171.6 2178.8 1174.9 2183.5 1177.8 2188.5 1180.3 2194.2 1182.6 2200.4 1184.6 2207.3 1186.4 2223.2 1189.2 2243.4 1191.3 2268.7 1192.9 2301.5 1194.0"/>
<path d="M1705.5 1196.0L1907.0 1195.2 1963.6 1194.4 2004.4 1193.2 2034.9 1191.4 2047.3 1190.2 2058.0 1188.8 2067.5 1187.1 2075.7 1185.1 2083.1 1182.7 2089.6 1179.9 2095.5 1176.6 2101.0 1172.7 2105.7 1168.3 2110.2 1163.0 2114.2 1157.0 2117.9 1149.9 2121.4 1141.6 2124.4 1132.9 2127.1 1123.2 2129.6 1112.8 2134.3 1087.9 2137.8 1064.8 2144.7 1011.4 2147.5 993.4 2150.0 982.6 2151.2 979.9 2152.2 979.2 2153.4 980.3 2154.7 983.3 2157.2 994.7 2159.6 1011.3 2168.3 1076.7 2171.6 1096.4 2175.0 1113.8 2179.0 1129.5 2183.2 1142.2 2188.0 1152.9 2193.2 1161.6 2196.4 1165.8 2199.6 1169.3 2203.4 1172.7 2207.3 1175.7 2211.8 1178.4 2216.5 1180.7 2221.8 1182.9 2227.5 1184.7 2240.6 1187.8 2256.5 1190.1 2276.4 1191.9 2301.5 1193.2"/>
<path d="M1705.5 1196.0L1925.4 1195.3 1986.2 1194.7 2029.5 1193.6 2062.0 1192.0 2086.1 1189.6 2095.8 1188.0 2104.5 1186.2 2111.9 1184.0 2118.7 1181.5 2124.9 1178.4 2130.6 1174.7 2135.5 1170.4 2140.0 1165.5 2144.0 1160.0 2147.7 1153.4 2151.2 1145.7 2154.2 1137.6 2156.9 1128.7 2159.4 1118.9 2164.1 1095.6 2167.6 1073.8 2175.0 1019.0 2177.8 1002.1 2180.0 993.1 2181.3 990.5 2182.3 990.0 2183.5 991.1 2184.7 994.1 2187.2 1005.4 2189.7 1021.5 2197.7 1079.4 2200.6 1097.5 2203.9 1113.9 2207.1 1127.2 2210.8 1139.4 2214.8 1149.5 2219.0 1157.7 2224.5 1165.7 2227.7 1169.3 2230.9 1172.4 2238.1 1177.6 2246.8 1182.0 2257.0 1185.4 2269.0 1188.1 2283.6 1190.2 2301.5 1191.9"/>
<path d="M1705.5 1196.1L1944.0 1195.5 2009.1 1194.9 2054.8 1194.0 2089.1 1192.5 2114.4 1190.3 2124.6 1188.9 2133.6 1187.2 2141.3 1185.3 2148.2 1183.0 2154.7 1180.1 2160.4 1176.7 2165.6 1172.7 2170.1 1168.3 2174.3 1162.9 2178.0 1156.9 2181.5 1149.8 2184.7 1141.6 2189.2 1127.0 2193.4 1108.4 2198.2 1081.2 2207.6 1016.1 2210.3 1003.9 2211.6 1001.0 2212.8 1000.0 2214.1 1001.0 2215.3 1003.9 2217.8 1014.8 2220.3 1030.4 2227.7 1082.9 2230.4 1099.3 2233.2 1113.3 2235.9 1125.1 2238.6 1134.9 2241.6 1143.7 2245.1 1152.0 2249.3 1159.9 2254.0 1166.5 2259.5 1172.3 2265.7 1177.1 2272.7 1181.0 2280.9 1184.2 2290.3 1186.9 2301.5 1189.0"/>
<path d="M1705.5 1196.1L1963.4 1195.6 2032.4 1195.1 2080.6 1194.2 2116.4 1192.9 2142.5 1190.9 2153.2 1189.6 2162.4 1188.1 2170.3 1186.3 2177.5 1184.1 2184.2 1181.4 2190.2 1178.2 2195.4 1174.4 2200.1 1170.0 2204.4 1165.0 2208.1 1159.3 2211.6 1152.6 2214.8 1144.8 2219.5 1130.0 2223.7 1112.0 2228.5 1085.5 2237.7 1024.1 2240.4 1012.3 2241.6 1009.6 2242.9 1008.7 2243.9 1009.4 2245.1 1012.0 2247.3 1020.9 2250.1 1037.1 2256.8 1083.2 2260.0 1102.5 2264.5 1123.8 2267.0 1133.1 2269.5 1141.1 2272.4 1149.0 2275.4 1155.4 2278.6 1161.1 2282.4 1166.4 2286.3 1170.9 2290.8 1174.9 2295.8 1178.4 2301.5 1181.5"/>
<path d="M1705.5 1196.2L1982.3 1195.7 2055.3 1195.3 2106.0 1194.5 2143.5 1193.4 2170.8 1191.6 2191.2 1189.1 2199.6 1187.4 2206.8 1185.5 2213.8 1183.0 2219.8 1180.2 2225.2 1176.7 2230.0 1172.8 2234.2 1168.3 2238.1 1162.8 2241.9 1156.3 2245.1 1149.1 2249.8 1135.4 2254.0 1118.6 2258.8 1093.9 2268.0 1036.2 2270.4 1026.0 2271.7 1023.2 2272.9 1022.1 2274.2 1022.9 2275.4 1025.6 2277.9 1035.5 2287.3 1094.5 2292.1 1119.1 2296.5 1136.6 2299.0 1144.2 2301.5 1150.6"/>
</g>
<path d="M1707.5 1023.1L1753.0 1001.5 1788.7 986.1 1806.5 979.1 1822.3 973.3 1838.2 968.0 1854.0 963.2 1869.9 958.9 1885.7 955.2 1901.5 952.1 1915.4 949.8 1931.2 947.9 1947.1 946.5 1960.9 945.9 1976.8 945.7 1990.6 946.0 2004.5 946.8 2018.3 948.1 2032.2 949.8 2046.1 951.9 2061.9 954.8 2091.6 961.6 2117.3 968.6 2145.1 977.2 2172.8 986.5 2232.2 1007.3 2257.9 1015.8 2279.7 1022.3 2299.5 1027.5" fill="none" stroke="#f0404a" stroke-width="3.6" stroke-dasharray="13 5 4 5" clip-path="url(#cf)"/>
<rect x="1707.5" y="730.0" width="592.0" height="469.0" fill="none" stroke="#505050" stroke-width="3"/>
<path d="M1766.3 1199.0v-9 M1766.3 730.0v9M1865.0 1199.0v-9 M1865.0 730.0v9M1963.6 1199.0v-9 M1963.6 730.0v9M2062.2 1199.0v-9 M2062.2 730.0v9M2160.9 1199.0v-9 M2160.9 730.0v9M2259.6 1199.0v-9 M2259.6 730.0v9M1717.0 1199.0v-5 M1717.0 730.0v5M1815.6 1199.0v-5 M1815.6 730.0v5M1914.3 1199.0v-5 M1914.3 730.0v5M2012.9 1199.0v-5 M2012.9 730.0v5M2111.6 1199.0v-5 M2111.6 730.0v5M2210.2 1199.0v-5 M2210.2 730.0v5M1707.5 1132.0h9 M2299.5 1132.0h-9M1707.5 1065.0h9 M2299.5 1065.0h-9M1707.5 998.0h9 M2299.5 998.0h-9M1707.5 931.0h9 M2299.5 931.0h-9M1707.5 864.0h9 M2299.5 864.0h-9M1707.5 797.0h9 M2299.5 797.0h-9M1707.5 1165.5h5 M2299.5 1165.5h-5M1707.5 1098.5h5 M2299.5 1098.5h-5M1707.5 1031.5h5 M2299.5 1031.5h-5M1707.5 964.5h5 M2299.5 964.5h-5M1707.5 897.5h5 M2299.5 897.5h-5M1707.5 830.5h5 M2299.5 830.5h-5M1707.5 763.5h5 M2299.5 763.5h-5" stroke="#505050" stroke-width="2.6" fill="none"/>
<line x1="1707.5" y1="1197.0" x2="2300.5" y2="1197.0" stroke="#0a6412" stroke-width="6.5"/>
<text x="1578.0" y="677.3" text-anchor="start" style="font-family:'Liberation Serif','Times New Roman',serif;font-weight:bold;font-size:60.0px" fill="#000">(f)</text>
<text x="1697.8" y="1208.2" text-anchor="end" style="font-family:'Liberation Sans',Arial,sans-serif;font-weight:bold;font-size:32.0px" fill="#1a1a1a">0.0</text>
<text x="1697.8" y="1141.2" text-anchor="end" style="font-family:'Liberation Sans',Arial,sans-serif;font-weight:bold;font-size:32.0px" fill="#1a1a1a">0.1</text>
<text x="1697.8" y="1074.2" text-anchor="end" style="font-family:'Liberation Sans',Arial,sans-serif;font-weight:bold;font-size:32.0px" fill="#1a1a1a">0.2</text>
<text x="1697.8" y="1007.2" text-anchor="end" style="font-family:'Liberation Sans',Arial,sans-serif;font-weight:bold;font-size:32.0px" fill="#1a1a1a">0.3</text>
<text x="1697.8" y="940.2" text-anchor="end" style="font-family:'Liberation Sans',Arial,sans-serif;font-weight:bold;font-size:32.0px" fill="#1a1a1a">0.4</text>
<text x="1697.8" y="873.2" text-anchor="end" style="font-family:'Liberation Sans',Arial,sans-serif;font-weight:bold;font-size:32.0px" fill="#1a1a1a">0.5</text>
<text x="1697.8" y="806.2" text-anchor="end" style="font-family:'Liberation Sans',Arial,sans-serif;font-weight:bold;font-size:32.0px" fill="#1a1a1a">0.6</text>
<text x="1697.8" y="739.2" text-anchor="end" style="font-family:'Liberation Sans',Arial,sans-serif;font-weight:bold;font-size:32.0px" fill="#1a1a1a">0.7</text>
<text x="1766.3" y="1234.6" text-anchor="middle" style="font-family:'Liberation Sans',Arial,sans-serif;font-weight:bold;font-size:32.0px" fill="#1a1a1a">0.520</text>
<text x="1865.0" y="1234.6" text-anchor="middle" style="font-family:'Liberation Sans',Arial,sans-serif;font-weight:bold;font-size:32.0px" fill="#1a1a1a">0.525</text>
<text x="1963.6" y="1234.6" text-anchor="middle" style="font-family:'Liberation Sans',Arial,sans-serif;font-weight:bold;font-size:32.0px" fill="#1a1a1a">0.530</text>
<text x="2062.2" y="1234.6" text-anchor="middle" style="font-family:'Liberation Sans',Arial,sans-serif;font-weight:bold;font-size:32.0px" fill="#1a1a1a">0.535</text>
<text x="2160.9" y="1234.6" text-anchor="middle" style="font-family:'Liberation Sans',Arial,sans-serif;font-weight:bold;font-size:32.0px" fill="#1a1a1a">0.540</text>
<text x="2259.6" y="1234.6" text-anchor="middle" style="font-family:'Liberation Sans',Arial,sans-serif;font-weight:bold;font-size:32.0px" fill="#1a1a1a">0.545</text>
<text x="2003.7" y="1293.4" text-anchor="middle" style="font-family:'Liberation Sans',Arial,sans-serif;font-size:41.0px" fill="#1a1a1a">Frequency(THz)</text>
<text x="1624.4" y="955.0" text-anchor="middle" style="font-family:'Liberation Sans',Arial,sans-serif;font-size:40.7px" fill="#1a1a1a" transform="rotate(-90 1624.4 955.0)">Absorption</text>
<line x1="2160.4" y1="774.5" x2="2214" y2="774.5" stroke="#f0404a" stroke-width="4" stroke-dasharray="13 5 4 5"/>
<text x="2218.3" y="780.1" text-anchor="start" style="font-family:'Liberation Sans',Arial,sans-serif;font-weight:bold;font-size:31.0px" fill="#1a1a1a">3μm</text>
<line x1="2018" y1="806.2" x2="2075.5" y2="806.2" stroke="#0b6612" stroke-width="8" stroke-linecap="round"/>
<text x="2079.8" y="812.9" text-anchor="start" style="font-family:'Liberation Sans',Arial,sans-serif;font-weight:bold;font-size:28.2px" fill="#1a1a1a" letter-spacing="0.5">without lactose</text>
</g>
</svg></body></html>
